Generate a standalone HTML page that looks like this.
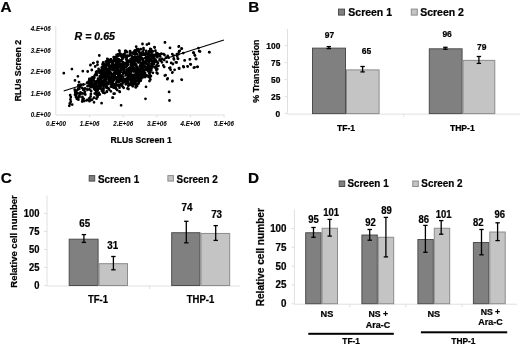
<!DOCTYPE html>
<html><head><meta charset="utf-8"><style>
html,body{margin:0;padding:0;background:#fff;width:520px;height:347px;overflow:hidden}
svg{display:block;font-family:"Liberation Sans", sans-serif;filter:blur(0.35px)} text{stroke:#000;stroke-width:0.22px}
</style></head><body>
<svg width="520" height="347" viewBox="0 0 520 347">
<text x="0.60" y="12.40" font-size="15.3" text-anchor="start" font-weight="bold" font-style="normal" fill="#000" >A</text>
<line x1="55.8" y1="26" x2="55.8" y2="115" stroke="#e0e0e0" stroke-width="1"/>
<line x1="55.8" y1="115" x2="224.5" y2="115" stroke="#e0e0e0" stroke-width="1"/>
<text transform="translate(50.60,117.30) scale(1,1.07)" font-size="6.2" text-anchor="end" font-weight="bold" font-style="italic" fill="#000" style="stroke-width:0.05px">0.E+00</text>
<text transform="translate(50.60,95.70) scale(1,1.07)" font-size="6.2" text-anchor="end" font-weight="bold" font-style="italic" fill="#000" style="stroke-width:0.05px">1.E+06</text>
<text transform="translate(50.60,74.10) scale(1,1.07)" font-size="6.2" text-anchor="end" font-weight="bold" font-style="italic" fill="#000" style="stroke-width:0.05px">2.E+06</text>
<text transform="translate(50.60,52.50) scale(1,1.07)" font-size="6.2" text-anchor="end" font-weight="bold" font-style="italic" fill="#000" style="stroke-width:0.05px">3.E+06</text>
<text transform="translate(50.60,30.90) scale(1,1.07)" font-size="6.2" text-anchor="end" font-weight="bold" font-style="italic" fill="#000" style="stroke-width:0.05px">4.E+06</text>
<line x1="89.6" y1="115" x2="89.6" y2="117.5" stroke="#e0e0e0" stroke-width="1"/>
<line x1="123.2" y1="115" x2="123.2" y2="117.5" stroke="#e0e0e0" stroke-width="1"/>
<line x1="156.8" y1="115" x2="156.8" y2="117.5" stroke="#e0e0e0" stroke-width="1"/>
<line x1="190.4" y1="115" x2="190.4" y2="117.5" stroke="#e0e0e0" stroke-width="1"/>
<line x1="224.0" y1="115" x2="224.0" y2="117.5" stroke="#e0e0e0" stroke-width="1"/>
<text transform="translate(56.00,126.20) scale(1,1.07)" font-size="6.2" text-anchor="middle" font-weight="bold" font-style="italic" fill="#000" style="stroke-width:0.05px">0.E+00</text>
<text transform="translate(89.60,126.20) scale(1,1.07)" font-size="6.2" text-anchor="middle" font-weight="bold" font-style="italic" fill="#000" style="stroke-width:0.05px">1.E+06</text>
<text transform="translate(123.20,126.20) scale(1,1.07)" font-size="6.2" text-anchor="middle" font-weight="bold" font-style="italic" fill="#000" style="stroke-width:0.05px">2.E+06</text>
<text transform="translate(156.80,126.20) scale(1,1.07)" font-size="6.2" text-anchor="middle" font-weight="bold" font-style="italic" fill="#000" style="stroke-width:0.05px">3.E+06</text>
<text transform="translate(190.40,126.20) scale(1,1.07)" font-size="6.2" text-anchor="middle" font-weight="bold" font-style="italic" fill="#000" style="stroke-width:0.05px">4.E+06</text>
<text transform="translate(224.00,126.20) scale(1,1.07)" font-size="6.2" text-anchor="middle" font-weight="bold" font-style="italic" fill="#000" style="stroke-width:0.05px">5.E+06</text>
<text transform="translate(141.10,143.20) scale(1,1.07)" font-size="8.7" text-anchor="middle" font-weight="bold" font-style="normal" fill="#000" >RLUs Screen 1</text>
<text transform="translate(20.6,70.6) rotate(-90)" font-size="8.7" text-anchor="middle" font-weight="bold">RLUs Screen 2</text>
<text transform="translate(74.60,39.90) scale(1,1.07)" font-size="10.6" text-anchor="start" font-weight="bold" font-style="italic" fill="#000" >R = 0.65</text>
<path d="M117.1 54.2a1.4 1.4 0 1 0 2.8 0a1.4 1.4 0 1 0 -2.8 0zM104.5 61.7a1.4 1.4 0 1 0 2.8 0a1.4 1.4 0 1 0 -2.8 0zM131.4 86.3a1.4 1.4 0 1 0 2.8 0a1.4 1.4 0 1 0 -2.8 0zM118.1 87.7a1.4 1.4 0 1 0 2.8 0a1.4 1.4 0 1 0 -2.8 0zM135.7 85.9a1.4 1.4 0 1 0 2.8 0a1.4 1.4 0 1 0 -2.8 0zM133.1 50.8a1.4 1.4 0 1 0 2.8 0a1.4 1.4 0 1 0 -2.8 0zM95.4 71.4a1.4 1.4 0 1 0 2.8 0a1.4 1.4 0 1 0 -2.8 0zM119.7 54.3a1.4 1.4 0 1 0 2.8 0a1.4 1.4 0 1 0 -2.8 0zM114.7 88.8a1.4 1.4 0 1 0 2.8 0a1.4 1.4 0 1 0 -2.8 0zM136.8 49.9a1.4 1.4 0 1 0 2.8 0a1.4 1.4 0 1 0 -2.8 0zM109.6 59.4a1.4 1.4 0 1 0 2.8 0a1.4 1.4 0 1 0 -2.8 0zM109.7 59.4a1.4 1.4 0 1 0 2.8 0a1.4 1.4 0 1 0 -2.8 0zM131.1 86.0a1.4 1.4 0 1 0 2.8 0a1.4 1.4 0 1 0 -2.8 0zM148.8 48.9a1.4 1.4 0 1 0 2.8 0a1.4 1.4 0 1 0 -2.8 0zM125.7 52.0a1.4 1.4 0 1 0 2.8 0a1.4 1.4 0 1 0 -2.8 0zM116.3 54.3a1.4 1.4 0 1 0 2.8 0a1.4 1.4 0 1 0 -2.8 0zM116.5 54.4a1.4 1.4 0 1 0 2.8 0a1.4 1.4 0 1 0 -2.8 0zM117.0 55.3a1.4 1.4 0 1 0 2.8 0a1.4 1.4 0 1 0 -2.8 0zM151.3 62.0a1.4 1.4 0 1 0 2.8 0a1.4 1.4 0 1 0 -2.8 0zM109.5 91.3a1.4 1.4 0 1 0 2.8 0a1.4 1.4 0 1 0 -2.8 0zM90.4 77.7a1.4 1.4 0 1 0 2.8 0a1.4 1.4 0 1 0 -2.8 0zM149.8 50.0a1.4 1.4 0 1 0 2.8 0a1.4 1.4 0 1 0 -2.8 0zM130.4 85.0a1.4 1.4 0 1 0 2.8 0a1.4 1.4 0 1 0 -2.8 0zM139.4 49.2a1.4 1.4 0 1 0 2.8 0a1.4 1.4 0 1 0 -2.8 0zM135.4 85.1a1.4 1.4 0 1 0 2.8 0a1.4 1.4 0 1 0 -2.8 0zM151.1 65.9a1.4 1.4 0 1 0 2.8 0a1.4 1.4 0 1 0 -2.8 0zM94.7 72.2a1.4 1.4 0 1 0 2.8 0a1.4 1.4 0 1 0 -2.8 0zM87.6 80.8a1.4 1.4 0 1 0 2.8 0a1.4 1.4 0 1 0 -2.8 0zM149.0 71.3a1.4 1.4 0 1 0 2.8 0a1.4 1.4 0 1 0 -2.8 0zM112.3 57.2a1.4 1.4 0 1 0 2.8 0a1.4 1.4 0 1 0 -2.8 0zM89.2 86.9a1.4 1.4 0 1 0 2.8 0a1.4 1.4 0 1 0 -2.8 0zM149.0 50.6a1.4 1.4 0 1 0 2.8 0a1.4 1.4 0 1 0 -2.8 0zM97.2 69.0a1.4 1.4 0 1 0 2.8 0a1.4 1.4 0 1 0 -2.8 0zM136.7 49.1a1.4 1.4 0 1 0 2.8 0a1.4 1.4 0 1 0 -2.8 0zM150.0 70.0a1.4 1.4 0 1 0 2.8 0a1.4 1.4 0 1 0 -2.8 0zM114.3 57.0a1.4 1.4 0 1 0 2.8 0a1.4 1.4 0 1 0 -2.8 0zM101.1 64.6a1.4 1.4 0 1 0 2.8 0a1.4 1.4 0 1 0 -2.8 0zM106.4 59.8a1.4 1.4 0 1 0 2.8 0a1.4 1.4 0 1 0 -2.8 0zM115.7 90.0a1.4 1.4 0 1 0 2.8 0a1.4 1.4 0 1 0 -2.8 0zM147.9 73.7a1.4 1.4 0 1 0 2.8 0a1.4 1.4 0 1 0 -2.8 0zM101.3 63.9a1.4 1.4 0 1 0 2.8 0a1.4 1.4 0 1 0 -2.8 0zM150.5 64.1a1.4 1.4 0 1 0 2.8 0a1.4 1.4 0 1 0 -2.8 0zM150.9 62.0a1.4 1.4 0 1 0 2.8 0a1.4 1.4 0 1 0 -2.8 0zM142.1 48.2a1.4 1.4 0 1 0 2.8 0a1.4 1.4 0 1 0 -2.8 0zM105.5 91.3a1.4 1.4 0 1 0 2.8 0a1.4 1.4 0 1 0 -2.8 0zM87.9 79.0a1.4 1.4 0 1 0 2.8 0a1.4 1.4 0 1 0 -2.8 0zM137.0 83.7a1.4 1.4 0 1 0 2.8 0a1.4 1.4 0 1 0 -2.8 0zM128.7 51.1a1.4 1.4 0 1 0 2.8 0a1.4 1.4 0 1 0 -2.8 0zM131.5 85.8a1.4 1.4 0 1 0 2.8 0a1.4 1.4 0 1 0 -2.8 0zM101.6 92.5a1.4 1.4 0 1 0 2.8 0a1.4 1.4 0 1 0 -2.8 0zM146.2 76.3a1.4 1.4 0 1 0 2.8 0a1.4 1.4 0 1 0 -2.8 0zM118.7 53.5a1.4 1.4 0 1 0 2.8 0a1.4 1.4 0 1 0 -2.8 0zM115.7 54.8a1.4 1.4 0 1 0 2.8 0a1.4 1.4 0 1 0 -2.8 0zM101.8 62.4a1.4 1.4 0 1 0 2.8 0a1.4 1.4 0 1 0 -2.8 0zM133.7 50.5a1.4 1.4 0 1 0 2.8 0a1.4 1.4 0 1 0 -2.8 0zM96.0 90.2a1.4 1.4 0 1 0 2.8 0a1.4 1.4 0 1 0 -2.8 0zM106.6 59.3a1.4 1.4 0 1 0 2.8 0a1.4 1.4 0 1 0 -2.8 0zM93.6 90.1a1.4 1.4 0 1 0 2.8 0a1.4 1.4 0 1 0 -2.8 0zM115.2 55.0a1.4 1.4 0 1 0 2.8 0a1.4 1.4 0 1 0 -2.8 0zM135.6 49.2a1.4 1.4 0 1 0 2.8 0a1.4 1.4 0 1 0 -2.8 0zM126.9 85.8a1.4 1.4 0 1 0 2.8 0a1.4 1.4 0 1 0 -2.8 0zM147.8 73.2a1.4 1.4 0 1 0 2.8 0a1.4 1.4 0 1 0 -2.8 0zM122.3 87.8a1.4 1.4 0 1 0 2.8 0a1.4 1.4 0 1 0 -2.8 0zM149.9 68.6a1.4 1.4 0 1 0 2.8 0a1.4 1.4 0 1 0 -2.8 0zM103.2 93.0a1.4 1.4 0 1 0 2.8 0a1.4 1.4 0 1 0 -2.8 0zM106.2 59.8a1.4 1.4 0 1 0 2.8 0a1.4 1.4 0 1 0 -2.8 0zM90.1 78.3a1.4 1.4 0 1 0 2.8 0a1.4 1.4 0 1 0 -2.8 0zM113.6 57.3a1.4 1.4 0 1 0 2.8 0a1.4 1.4 0 1 0 -2.8 0zM92.6 88.7a1.4 1.4 0 1 0 2.8 0a1.4 1.4 0 1 0 -2.8 0zM90.2 87.1a1.4 1.4 0 1 0 2.8 0a1.4 1.4 0 1 0 -2.8 0zM105.0 61.2a1.4 1.4 0 1 0 2.8 0a1.4 1.4 0 1 0 -2.8 0zM89.9 87.0a1.4 1.4 0 1 0 2.8 0a1.4 1.4 0 1 0 -2.8 0zM87.9 80.2a1.4 1.4 0 1 0 2.8 0a1.4 1.4 0 1 0 -2.8 0zM87.4 81.7a1.4 1.4 0 1 0 2.8 0a1.4 1.4 0 1 0 -2.8 0zM85.8 82.6a1.4 1.4 0 1 0 2.8 0a1.4 1.4 0 1 0 -2.8 0zM121.4 86.8a1.4 1.4 0 1 0 2.8 0a1.4 1.4 0 1 0 -2.8 0zM134.5 86.0a1.4 1.4 0 1 0 2.8 0a1.4 1.4 0 1 0 -2.8 0zM115.3 54.9a1.4 1.4 0 1 0 2.8 0a1.4 1.4 0 1 0 -2.8 0zM149.0 71.8a1.4 1.4 0 1 0 2.8 0a1.4 1.4 0 1 0 -2.8 0zM87.8 86.1a1.4 1.4 0 1 0 2.8 0a1.4 1.4 0 1 0 -2.8 0zM119.2 71.4a1.4 1.4 0 1 0 2.8 0a1.4 1.4 0 1 0 -2.8 0zM137.3 76.0a1.4 1.4 0 1 0 2.8 0a1.4 1.4 0 1 0 -2.8 0zM147.1 57.4a1.4 1.4 0 1 0 2.8 0a1.4 1.4 0 1 0 -2.8 0zM137.0 78.2a1.4 1.4 0 1 0 2.8 0a1.4 1.4 0 1 0 -2.8 0zM116.1 80.0a1.4 1.4 0 1 0 2.8 0a1.4 1.4 0 1 0 -2.8 0zM97.6 80.9a1.4 1.4 0 1 0 2.8 0a1.4 1.4 0 1 0 -2.8 0zM103.8 72.2a1.4 1.4 0 1 0 2.8 0a1.4 1.4 0 1 0 -2.8 0zM129.2 59.0a1.4 1.4 0 1 0 2.8 0a1.4 1.4 0 1 0 -2.8 0zM148.5 54.6a1.4 1.4 0 1 0 2.8 0a1.4 1.4 0 1 0 -2.8 0zM138.5 68.6a1.4 1.4 0 1 0 2.8 0a1.4 1.4 0 1 0 -2.8 0zM137.1 76.3a1.4 1.4 0 1 0 2.8 0a1.4 1.4 0 1 0 -2.8 0zM137.5 50.7a1.4 1.4 0 1 0 2.8 0a1.4 1.4 0 1 0 -2.8 0zM107.0 65.5a1.4 1.4 0 1 0 2.8 0a1.4 1.4 0 1 0 -2.8 0zM129.8 69.2a1.4 1.4 0 1 0 2.8 0a1.4 1.4 0 1 0 -2.8 0zM121.7 54.7a1.4 1.4 0 1 0 2.8 0a1.4 1.4 0 1 0 -2.8 0zM116.5 73.2a1.4 1.4 0 1 0 2.8 0a1.4 1.4 0 1 0 -2.8 0zM103.2 73.2a1.4 1.4 0 1 0 2.8 0a1.4 1.4 0 1 0 -2.8 0zM135.5 73.6a1.4 1.4 0 1 0 2.8 0a1.4 1.4 0 1 0 -2.8 0zM125.7 83.0a1.4 1.4 0 1 0 2.8 0a1.4 1.4 0 1 0 -2.8 0zM135.4 78.2a1.4 1.4 0 1 0 2.8 0a1.4 1.4 0 1 0 -2.8 0zM131.5 52.6a1.4 1.4 0 1 0 2.8 0a1.4 1.4 0 1 0 -2.8 0zM94.8 87.3a1.4 1.4 0 1 0 2.8 0a1.4 1.4 0 1 0 -2.8 0zM105.7 75.7a1.4 1.4 0 1 0 2.8 0a1.4 1.4 0 1 0 -2.8 0zM132.1 71.5a1.4 1.4 0 1 0 2.8 0a1.4 1.4 0 1 0 -2.8 0zM116.7 62.0a1.4 1.4 0 1 0 2.8 0a1.4 1.4 0 1 0 -2.8 0zM115.3 73.8a1.4 1.4 0 1 0 2.8 0a1.4 1.4 0 1 0 -2.8 0zM99.6 70.8a1.4 1.4 0 1 0 2.8 0a1.4 1.4 0 1 0 -2.8 0zM116.3 56.3a1.4 1.4 0 1 0 2.8 0a1.4 1.4 0 1 0 -2.8 0zM102.2 73.8a1.4 1.4 0 1 0 2.8 0a1.4 1.4 0 1 0 -2.8 0zM126.8 73.4a1.4 1.4 0 1 0 2.8 0a1.4 1.4 0 1 0 -2.8 0zM119.9 70.0a1.4 1.4 0 1 0 2.8 0a1.4 1.4 0 1 0 -2.8 0zM147.0 64.8a1.4 1.4 0 1 0 2.8 0a1.4 1.4 0 1 0 -2.8 0zM139.2 57.4a1.4 1.4 0 1 0 2.8 0a1.4 1.4 0 1 0 -2.8 0zM118.9 65.3a1.4 1.4 0 1 0 2.8 0a1.4 1.4 0 1 0 -2.8 0zM137.3 83.0a1.4 1.4 0 1 0 2.8 0a1.4 1.4 0 1 0 -2.8 0zM127.2 73.6a1.4 1.4 0 1 0 2.8 0a1.4 1.4 0 1 0 -2.8 0zM116.2 78.8a1.4 1.4 0 1 0 2.8 0a1.4 1.4 0 1 0 -2.8 0zM114.1 86.7a1.4 1.4 0 1 0 2.8 0a1.4 1.4 0 1 0 -2.8 0zM101.9 69.0a1.4 1.4 0 1 0 2.8 0a1.4 1.4 0 1 0 -2.8 0zM136.3 73.9a1.4 1.4 0 1 0 2.8 0a1.4 1.4 0 1 0 -2.8 0zM134.9 80.9a1.4 1.4 0 1 0 2.8 0a1.4 1.4 0 1 0 -2.8 0zM110.7 67.5a1.4 1.4 0 1 0 2.8 0a1.4 1.4 0 1 0 -2.8 0zM147.1 52.5a1.4 1.4 0 1 0 2.8 0a1.4 1.4 0 1 0 -2.8 0zM136.3 56.4a1.4 1.4 0 1 0 2.8 0a1.4 1.4 0 1 0 -2.8 0zM118.8 65.8a1.4 1.4 0 1 0 2.8 0a1.4 1.4 0 1 0 -2.8 0zM88.3 85.3a1.4 1.4 0 1 0 2.8 0a1.4 1.4 0 1 0 -2.8 0zM132.4 60.1a1.4 1.4 0 1 0 2.8 0a1.4 1.4 0 1 0 -2.8 0zM137.1 61.9a1.4 1.4 0 1 0 2.8 0a1.4 1.4 0 1 0 -2.8 0zM125.6 80.0a1.4 1.4 0 1 0 2.8 0a1.4 1.4 0 1 0 -2.8 0zM140.6 66.5a1.4 1.4 0 1 0 2.8 0a1.4 1.4 0 1 0 -2.8 0zM103.2 66.6a1.4 1.4 0 1 0 2.8 0a1.4 1.4 0 1 0 -2.8 0zM129.5 72.1a1.4 1.4 0 1 0 2.8 0a1.4 1.4 0 1 0 -2.8 0zM105.6 70.8a1.4 1.4 0 1 0 2.8 0a1.4 1.4 0 1 0 -2.8 0zM114.9 63.1a1.4 1.4 0 1 0 2.8 0a1.4 1.4 0 1 0 -2.8 0zM110.7 73.8a1.4 1.4 0 1 0 2.8 0a1.4 1.4 0 1 0 -2.8 0zM109.2 78.3a1.4 1.4 0 1 0 2.8 0a1.4 1.4 0 1 0 -2.8 0zM129.2 73.0a1.4 1.4 0 1 0 2.8 0a1.4 1.4 0 1 0 -2.8 0zM113.6 66.2a1.4 1.4 0 1 0 2.8 0a1.4 1.4 0 1 0 -2.8 0zM89.3 80.2a1.4 1.4 0 1 0 2.8 0a1.4 1.4 0 1 0 -2.8 0zM104.4 68.7a1.4 1.4 0 1 0 2.8 0a1.4 1.4 0 1 0 -2.8 0zM103.0 80.0a1.4 1.4 0 1 0 2.8 0a1.4 1.4 0 1 0 -2.8 0zM133.1 57.2a1.4 1.4 0 1 0 2.8 0a1.4 1.4 0 1 0 -2.8 0zM100.3 88.5a1.4 1.4 0 1 0 2.8 0a1.4 1.4 0 1 0 -2.8 0zM124.8 56.9a1.4 1.4 0 1 0 2.8 0a1.4 1.4 0 1 0 -2.8 0zM109.5 67.8a1.4 1.4 0 1 0 2.8 0a1.4 1.4 0 1 0 -2.8 0zM131.8 84.6a1.4 1.4 0 1 0 2.8 0a1.4 1.4 0 1 0 -2.8 0zM138.3 54.6a1.4 1.4 0 1 0 2.8 0a1.4 1.4 0 1 0 -2.8 0zM91.7 77.2a1.4 1.4 0 1 0 2.8 0a1.4 1.4 0 1 0 -2.8 0zM131.4 53.2a1.4 1.4 0 1 0 2.8 0a1.4 1.4 0 1 0 -2.8 0zM119.7 84.1a1.4 1.4 0 1 0 2.8 0a1.4 1.4 0 1 0 -2.8 0zM121.5 68.7a1.4 1.4 0 1 0 2.8 0a1.4 1.4 0 1 0 -2.8 0zM126.6 79.8a1.4 1.4 0 1 0 2.8 0a1.4 1.4 0 1 0 -2.8 0zM102.5 81.1a1.4 1.4 0 1 0 2.8 0a1.4 1.4 0 1 0 -2.8 0zM102.9 82.6a1.4 1.4 0 1 0 2.8 0a1.4 1.4 0 1 0 -2.8 0zM134.4 51.1a1.4 1.4 0 1 0 2.8 0a1.4 1.4 0 1 0 -2.8 0zM128.7 79.8a1.4 1.4 0 1 0 2.8 0a1.4 1.4 0 1 0 -2.8 0zM102.5 70.5a1.4 1.4 0 1 0 2.8 0a1.4 1.4 0 1 0 -2.8 0zM135.4 68.8a1.4 1.4 0 1 0 2.8 0a1.4 1.4 0 1 0 -2.8 0zM103.8 67.4a1.4 1.4 0 1 0 2.8 0a1.4 1.4 0 1 0 -2.8 0zM126.2 60.9a1.4 1.4 0 1 0 2.8 0a1.4 1.4 0 1 0 -2.8 0zM148.6 69.7a1.4 1.4 0 1 0 2.8 0a1.4 1.4 0 1 0 -2.8 0zM110.4 79.7a1.4 1.4 0 1 0 2.8 0a1.4 1.4 0 1 0 -2.8 0zM136.3 59.5a1.4 1.4 0 1 0 2.8 0a1.4 1.4 0 1 0 -2.8 0zM110.5 65.1a1.4 1.4 0 1 0 2.8 0a1.4 1.4 0 1 0 -2.8 0zM105.1 83.3a1.4 1.4 0 1 0 2.8 0a1.4 1.4 0 1 0 -2.8 0zM127.7 77.4a1.4 1.4 0 1 0 2.8 0a1.4 1.4 0 1 0 -2.8 0zM104.3 84.3a1.4 1.4 0 1 0 2.8 0a1.4 1.4 0 1 0 -2.8 0zM148.1 58.7a1.4 1.4 0 1 0 2.8 0a1.4 1.4 0 1 0 -2.8 0zM100.0 85.8a1.4 1.4 0 1 0 2.8 0a1.4 1.4 0 1 0 -2.8 0zM108.0 78.4a1.4 1.4 0 1 0 2.8 0a1.4 1.4 0 1 0 -2.8 0zM124.4 66.8a1.4 1.4 0 1 0 2.8 0a1.4 1.4 0 1 0 -2.8 0zM132.2 78.2a1.4 1.4 0 1 0 2.8 0a1.4 1.4 0 1 0 -2.8 0zM132.0 64.2a1.4 1.4 0 1 0 2.8 0a1.4 1.4 0 1 0 -2.8 0zM126.4 60.5a1.4 1.4 0 1 0 2.8 0a1.4 1.4 0 1 0 -2.8 0zM97.7 83.8a1.4 1.4 0 1 0 2.8 0a1.4 1.4 0 1 0 -2.8 0zM115.6 77.9a1.4 1.4 0 1 0 2.8 0a1.4 1.4 0 1 0 -2.8 0zM98.8 75.9a1.4 1.4 0 1 0 2.8 0a1.4 1.4 0 1 0 -2.8 0zM128.8 72.8a1.4 1.4 0 1 0 2.8 0a1.4 1.4 0 1 0 -2.8 0zM145.4 53.8a1.4 1.4 0 1 0 2.8 0a1.4 1.4 0 1 0 -2.8 0zM121.1 83.8a1.4 1.4 0 1 0 2.8 0a1.4 1.4 0 1 0 -2.8 0zM117.2 64.9a1.4 1.4 0 1 0 2.8 0a1.4 1.4 0 1 0 -2.8 0zM107.7 75.9a1.4 1.4 0 1 0 2.8 0a1.4 1.4 0 1 0 -2.8 0zM129.8 64.7a1.4 1.4 0 1 0 2.8 0a1.4 1.4 0 1 0 -2.8 0zM126.0 55.6a1.4 1.4 0 1 0 2.8 0a1.4 1.4 0 1 0 -2.8 0zM90.2 83.3a1.4 1.4 0 1 0 2.8 0a1.4 1.4 0 1 0 -2.8 0zM98.7 86.3a1.4 1.4 0 1 0 2.8 0a1.4 1.4 0 1 0 -2.8 0zM147.0 58.1a1.4 1.4 0 1 0 2.8 0a1.4 1.4 0 1 0 -2.8 0zM104.3 73.7a1.4 1.4 0 1 0 2.8 0a1.4 1.4 0 1 0 -2.8 0zM121.0 55.2a1.4 1.4 0 1 0 2.8 0a1.4 1.4 0 1 0 -2.8 0zM122.0 57.4a1.4 1.4 0 1 0 2.8 0a1.4 1.4 0 1 0 -2.8 0zM127.8 83.9a1.4 1.4 0 1 0 2.8 0a1.4 1.4 0 1 0 -2.8 0zM95.1 89.1a1.4 1.4 0 1 0 2.8 0a1.4 1.4 0 1 0 -2.8 0zM131.0 77.5a1.4 1.4 0 1 0 2.8 0a1.4 1.4 0 1 0 -2.8 0zM128.4 61.1a1.4 1.4 0 1 0 2.8 0a1.4 1.4 0 1 0 -2.8 0zM90.9 78.3a1.4 1.4 0 1 0 2.8 0a1.4 1.4 0 1 0 -2.8 0zM110.9 86.9a1.4 1.4 0 1 0 2.8 0a1.4 1.4 0 1 0 -2.8 0zM101.1 81.0a1.4 1.4 0 1 0 2.8 0a1.4 1.4 0 1 0 -2.8 0zM133.4 80.2a1.4 1.4 0 1 0 2.8 0a1.4 1.4 0 1 0 -2.8 0zM126.0 61.1a1.4 1.4 0 1 0 2.8 0a1.4 1.4 0 1 0 -2.8 0zM147.7 62.1a1.4 1.4 0 1 0 2.8 0a1.4 1.4 0 1 0 -2.8 0zM105.2 85.9a1.4 1.4 0 1 0 2.8 0a1.4 1.4 0 1 0 -2.8 0zM145.8 68.3a1.4 1.4 0 1 0 2.8 0a1.4 1.4 0 1 0 -2.8 0zM103.6 84.2a1.4 1.4 0 1 0 2.8 0a1.4 1.4 0 1 0 -2.8 0zM139.8 77.4a1.4 1.4 0 1 0 2.8 0a1.4 1.4 0 1 0 -2.8 0zM115.8 66.9a1.4 1.4 0 1 0 2.8 0a1.4 1.4 0 1 0 -2.8 0zM130.1 60.0a1.4 1.4 0 1 0 2.8 0a1.4 1.4 0 1 0 -2.8 0zM123.5 53.3a1.4 1.4 0 1 0 2.8 0a1.4 1.4 0 1 0 -2.8 0zM96.2 86.5a1.4 1.4 0 1 0 2.8 0a1.4 1.4 0 1 0 -2.8 0zM97.9 84.1a1.4 1.4 0 1 0 2.8 0a1.4 1.4 0 1 0 -2.8 0zM126.7 62.3a1.4 1.4 0 1 0 2.8 0a1.4 1.4 0 1 0 -2.8 0zM107.3 61.7a1.4 1.4 0 1 0 2.8 0a1.4 1.4 0 1 0 -2.8 0zM136.1 74.5a1.4 1.4 0 1 0 2.8 0a1.4 1.4 0 1 0 -2.8 0zM123.7 66.9a1.4 1.4 0 1 0 2.8 0a1.4 1.4 0 1 0 -2.8 0zM104.3 72.3a1.4 1.4 0 1 0 2.8 0a1.4 1.4 0 1 0 -2.8 0zM138.6 54.9a1.4 1.4 0 1 0 2.8 0a1.4 1.4 0 1 0 -2.8 0zM105.7 88.0a1.4 1.4 0 1 0 2.8 0a1.4 1.4 0 1 0 -2.8 0zM131.8 75.0a1.4 1.4 0 1 0 2.8 0a1.4 1.4 0 1 0 -2.8 0zM133.0 62.7a1.4 1.4 0 1 0 2.8 0a1.4 1.4 0 1 0 -2.8 0zM114.3 65.2a1.4 1.4 0 1 0 2.8 0a1.4 1.4 0 1 0 -2.8 0zM129.3 59.5a1.4 1.4 0 1 0 2.8 0a1.4 1.4 0 1 0 -2.8 0zM127.9 55.6a1.4 1.4 0 1 0 2.8 0a1.4 1.4 0 1 0 -2.8 0zM101.3 75.5a1.4 1.4 0 1 0 2.8 0a1.4 1.4 0 1 0 -2.8 0zM121.9 65.7a1.4 1.4 0 1 0 2.8 0a1.4 1.4 0 1 0 -2.8 0zM101.7 74.7a1.4 1.4 0 1 0 2.8 0a1.4 1.4 0 1 0 -2.8 0zM133.6 83.4a1.4 1.4 0 1 0 2.8 0a1.4 1.4 0 1 0 -2.8 0zM138.0 59.0a1.4 1.4 0 1 0 2.8 0a1.4 1.4 0 1 0 -2.8 0zM140.1 57.9a1.4 1.4 0 1 0 2.8 0a1.4 1.4 0 1 0 -2.8 0zM104.6 66.2a1.4 1.4 0 1 0 2.8 0a1.4 1.4 0 1 0 -2.8 0zM131.0 56.7a1.4 1.4 0 1 0 2.8 0a1.4 1.4 0 1 0 -2.8 0zM100.1 75.4a1.4 1.4 0 1 0 2.8 0a1.4 1.4 0 1 0 -2.8 0zM117.6 55.4a1.4 1.4 0 1 0 2.8 0a1.4 1.4 0 1 0 -2.8 0zM133.3 69.1a1.4 1.4 0 1 0 2.8 0a1.4 1.4 0 1 0 -2.8 0zM119.5 75.4a1.4 1.4 0 1 0 2.8 0a1.4 1.4 0 1 0 -2.8 0zM130.1 69.7a1.4 1.4 0 1 0 2.8 0a1.4 1.4 0 1 0 -2.8 0zM104.0 78.2a1.4 1.4 0 1 0 2.8 0a1.4 1.4 0 1 0 -2.8 0zM125.4 65.3a1.4 1.4 0 1 0 2.8 0a1.4 1.4 0 1 0 -2.8 0zM132.1 81.5a1.4 1.4 0 1 0 2.8 0a1.4 1.4 0 1 0 -2.8 0zM134.6 75.0a1.4 1.4 0 1 0 2.8 0a1.4 1.4 0 1 0 -2.8 0zM107.3 68.3a1.4 1.4 0 1 0 2.8 0a1.4 1.4 0 1 0 -2.8 0zM141.0 77.6a1.4 1.4 0 1 0 2.8 0a1.4 1.4 0 1 0 -2.8 0zM131.8 79.2a1.4 1.4 0 1 0 2.8 0a1.4 1.4 0 1 0 -2.8 0zM142.4 63.1a1.4 1.4 0 1 0 2.8 0a1.4 1.4 0 1 0 -2.8 0zM113.5 66.4a1.4 1.4 0 1 0 2.8 0a1.4 1.4 0 1 0 -2.8 0zM104.3 75.9a1.4 1.4 0 1 0 2.8 0a1.4 1.4 0 1 0 -2.8 0zM100.5 88.5a1.4 1.4 0 1 0 2.8 0a1.4 1.4 0 1 0 -2.8 0zM109.8 76.8a1.4 1.4 0 1 0 2.8 0a1.4 1.4 0 1 0 -2.8 0zM113.6 78.9a1.4 1.4 0 1 0 2.8 0a1.4 1.4 0 1 0 -2.8 0zM130.1 62.9a1.4 1.4 0 1 0 2.8 0a1.4 1.4 0 1 0 -2.8 0zM104.0 81.7a1.4 1.4 0 1 0 2.8 0a1.4 1.4 0 1 0 -2.8 0zM120.8 69.5a1.4 1.4 0 1 0 2.8 0a1.4 1.4 0 1 0 -2.8 0zM120.5 79.3a1.4 1.4 0 1 0 2.8 0a1.4 1.4 0 1 0 -2.8 0zM133.9 65.1a1.4 1.4 0 1 0 2.8 0a1.4 1.4 0 1 0 -2.8 0zM115.1 77.5a1.4 1.4 0 1 0 2.8 0a1.4 1.4 0 1 0 -2.8 0zM132.2 79.4a1.4 1.4 0 1 0 2.8 0a1.4 1.4 0 1 0 -2.8 0zM114.9 69.1a1.4 1.4 0 1 0 2.8 0a1.4 1.4 0 1 0 -2.8 0zM107.3 88.6a1.4 1.4 0 1 0 2.8 0a1.4 1.4 0 1 0 -2.8 0zM109.7 60.0a1.4 1.4 0 1 0 2.8 0a1.4 1.4 0 1 0 -2.8 0zM138.8 70.7a1.4 1.4 0 1 0 2.8 0a1.4 1.4 0 1 0 -2.8 0zM114.4 88.6a1.4 1.4 0 1 0 2.8 0a1.4 1.4 0 1 0 -2.8 0zM104.7 86.4a1.4 1.4 0 1 0 2.8 0a1.4 1.4 0 1 0 -2.8 0zM116.0 72.9a1.4 1.4 0 1 0 2.8 0a1.4 1.4 0 1 0 -2.8 0zM113.9 87.7a1.4 1.4 0 1 0 2.8 0a1.4 1.4 0 1 0 -2.8 0zM107.2 88.7a1.4 1.4 0 1 0 2.8 0a1.4 1.4 0 1 0 -2.8 0zM108.1 60.1a1.4 1.4 0 1 0 2.8 0a1.4 1.4 0 1 0 -2.8 0zM95.5 75.2a1.4 1.4 0 1 0 2.8 0a1.4 1.4 0 1 0 -2.8 0zM90.7 83.2a1.4 1.4 0 1 0 2.8 0a1.4 1.4 0 1 0 -2.8 0zM109.6 73.0a1.4 1.4 0 1 0 2.8 0a1.4 1.4 0 1 0 -2.8 0zM130.9 79.0a1.4 1.4 0 1 0 2.8 0a1.4 1.4 0 1 0 -2.8 0zM110.7 69.7a1.4 1.4 0 1 0 2.8 0a1.4 1.4 0 1 0 -2.8 0zM116.8 55.8a1.4 1.4 0 1 0 2.8 0a1.4 1.4 0 1 0 -2.8 0zM146.7 66.4a1.4 1.4 0 1 0 2.8 0a1.4 1.4 0 1 0 -2.8 0zM138.2 57.7a1.4 1.4 0 1 0 2.8 0a1.4 1.4 0 1 0 -2.8 0zM109.2 65.8a1.4 1.4 0 1 0 2.8 0a1.4 1.4 0 1 0 -2.8 0zM145.3 68.5a1.4 1.4 0 1 0 2.8 0a1.4 1.4 0 1 0 -2.8 0zM132.2 58.6a1.4 1.4 0 1 0 2.8 0a1.4 1.4 0 1 0 -2.8 0zM131.2 79.0a1.4 1.4 0 1 0 2.8 0a1.4 1.4 0 1 0 -2.8 0zM144.4 61.0a1.4 1.4 0 1 0 2.8 0a1.4 1.4 0 1 0 -2.8 0zM130.1 55.6a1.4 1.4 0 1 0 2.8 0a1.4 1.4 0 1 0 -2.8 0zM117.9 81.9a1.4 1.4 0 1 0 2.8 0a1.4 1.4 0 1 0 -2.8 0zM90.3 80.8a1.4 1.4 0 1 0 2.8 0a1.4 1.4 0 1 0 -2.8 0zM129.8 81.6a1.4 1.4 0 1 0 2.8 0a1.4 1.4 0 1 0 -2.8 0zM96.4 89.9a1.4 1.4 0 1 0 2.8 0a1.4 1.4 0 1 0 -2.8 0zM111.5 77.7a1.4 1.4 0 1 0 2.8 0a1.4 1.4 0 1 0 -2.8 0zM110.6 62.5a1.4 1.4 0 1 0 2.8 0a1.4 1.4 0 1 0 -2.8 0zM92.3 86.4a1.4 1.4 0 1 0 2.8 0a1.4 1.4 0 1 0 -2.8 0zM142.9 73.8a1.4 1.4 0 1 0 2.8 0a1.4 1.4 0 1 0 -2.8 0zM124.1 71.8a1.4 1.4 0 1 0 2.8 0a1.4 1.4 0 1 0 -2.8 0zM141.4 59.2a1.4 1.4 0 1 0 2.8 0a1.4 1.4 0 1 0 -2.8 0zM135.7 72.5a1.4 1.4 0 1 0 2.8 0a1.4 1.4 0 1 0 -2.8 0zM100.1 74.0a1.4 1.4 0 1 0 2.8 0a1.4 1.4 0 1 0 -2.8 0zM129.2 67.2a1.4 1.4 0 1 0 2.8 0a1.4 1.4 0 1 0 -2.8 0zM118.4 78.6a1.4 1.4 0 1 0 2.8 0a1.4 1.4 0 1 0 -2.8 0zM128.2 70.0a1.4 1.4 0 1 0 2.8 0a1.4 1.4 0 1 0 -2.8 0zM137.4 60.9a1.4 1.4 0 1 0 2.8 0a1.4 1.4 0 1 0 -2.8 0zM94.0 74.5a1.4 1.4 0 1 0 2.8 0a1.4 1.4 0 1 0 -2.8 0zM132.3 70.0a1.4 1.4 0 1 0 2.8 0a1.4 1.4 0 1 0 -2.8 0zM131.2 64.8a1.4 1.4 0 1 0 2.8 0a1.4 1.4 0 1 0 -2.8 0zM140.3 59.4a1.4 1.4 0 1 0 2.8 0a1.4 1.4 0 1 0 -2.8 0zM129.7 66.5a1.4 1.4 0 1 0 2.8 0a1.4 1.4 0 1 0 -2.8 0zM95.3 72.8a1.4 1.4 0 1 0 2.8 0a1.4 1.4 0 1 0 -2.8 0zM125.7 82.4a1.4 1.4 0 1 0 2.8 0a1.4 1.4 0 1 0 -2.8 0zM106.9 69.4a1.4 1.4 0 1 0 2.8 0a1.4 1.4 0 1 0 -2.8 0zM115.1 70.4a1.4 1.4 0 1 0 2.8 0a1.4 1.4 0 1 0 -2.8 0zM103.8 72.7a1.4 1.4 0 1 0 2.8 0a1.4 1.4 0 1 0 -2.8 0zM93.4 81.6a1.4 1.4 0 1 0 2.8 0a1.4 1.4 0 1 0 -2.8 0zM111.7 68.0a1.4 1.4 0 1 0 2.8 0a1.4 1.4 0 1 0 -2.8 0zM125.2 58.4a1.4 1.4 0 1 0 2.8 0a1.4 1.4 0 1 0 -2.8 0zM117.4 80.0a1.4 1.4 0 1 0 2.8 0a1.4 1.4 0 1 0 -2.8 0zM115.8 60.7a1.4 1.4 0 1 0 2.8 0a1.4 1.4 0 1 0 -2.8 0zM95.6 89.4a1.4 1.4 0 1 0 2.8 0a1.4 1.4 0 1 0 -2.8 0zM132.4 58.9a1.4 1.4 0 1 0 2.8 0a1.4 1.4 0 1 0 -2.8 0zM110.5 77.7a1.4 1.4 0 1 0 2.8 0a1.4 1.4 0 1 0 -2.8 0zM140.3 54.7a1.4 1.4 0 1 0 2.8 0a1.4 1.4 0 1 0 -2.8 0zM128.7 73.8a1.4 1.4 0 1 0 2.8 0a1.4 1.4 0 1 0 -2.8 0zM131.9 53.6a1.4 1.4 0 1 0 2.8 0a1.4 1.4 0 1 0 -2.8 0zM110.6 77.1a1.4 1.4 0 1 0 2.8 0a1.4 1.4 0 1 0 -2.8 0zM104.3 73.0a1.4 1.4 0 1 0 2.8 0a1.4 1.4 0 1 0 -2.8 0zM113.8 72.6a1.4 1.4 0 1 0 2.8 0a1.4 1.4 0 1 0 -2.8 0zM93.0 77.8a1.4 1.4 0 1 0 2.8 0a1.4 1.4 0 1 0 -2.8 0zM133.2 82.4a1.4 1.4 0 1 0 2.8 0a1.4 1.4 0 1 0 -2.8 0zM149.8 61.0a1.4 1.4 0 1 0 2.8 0a1.4 1.4 0 1 0 -2.8 0zM120.0 77.2a1.4 1.4 0 1 0 2.8 0a1.4 1.4 0 1 0 -2.8 0zM102.0 81.8a1.4 1.4 0 1 0 2.8 0a1.4 1.4 0 1 0 -2.8 0zM115.0 82.4a1.4 1.4 0 1 0 2.8 0a1.4 1.4 0 1 0 -2.8 0zM111.4 61.0a1.4 1.4 0 1 0 2.8 0a1.4 1.4 0 1 0 -2.8 0zM122.8 54.5a1.4 1.4 0 1 0 2.8 0a1.4 1.4 0 1 0 -2.8 0zM116.5 77.7a1.4 1.4 0 1 0 2.8 0a1.4 1.4 0 1 0 -2.8 0zM100.3 67.6a1.4 1.4 0 1 0 2.8 0a1.4 1.4 0 1 0 -2.8 0zM150.0 57.1a1.4 1.4 0 1 0 2.8 0a1.4 1.4 0 1 0 -2.8 0zM109.2 80.2a1.4 1.4 0 1 0 2.8 0a1.4 1.4 0 1 0 -2.8 0zM100.7 67.1a1.4 1.4 0 1 0 2.8 0a1.4 1.4 0 1 0 -2.8 0zM93.9 83.3a1.4 1.4 0 1 0 2.8 0a1.4 1.4 0 1 0 -2.8 0zM105.7 74.3a1.4 1.4 0 1 0 2.8 0a1.4 1.4 0 1 0 -2.8 0zM114.7 62.2a1.4 1.4 0 1 0 2.8 0a1.4 1.4 0 1 0 -2.8 0zM105.3 64.2a1.4 1.4 0 1 0 2.8 0a1.4 1.4 0 1 0 -2.8 0zM116.6 64.8a1.4 1.4 0 1 0 2.8 0a1.4 1.4 0 1 0 -2.8 0zM130.0 64.1a1.4 1.4 0 1 0 2.8 0a1.4 1.4 0 1 0 -2.8 0zM113.7 66.2a1.4 1.4 0 1 0 2.8 0a1.4 1.4 0 1 0 -2.8 0zM103.4 84.9a1.4 1.4 0 1 0 2.8 0a1.4 1.4 0 1 0 -2.8 0zM136.2 68.9a1.4 1.4 0 1 0 2.8 0a1.4 1.4 0 1 0 -2.8 0zM144.1 63.3a1.4 1.4 0 1 0 2.8 0a1.4 1.4 0 1 0 -2.8 0zM90.6 85.8a1.4 1.4 0 1 0 2.8 0a1.4 1.4 0 1 0 -2.8 0zM147.8 51.2a1.4 1.4 0 1 0 2.8 0a1.4 1.4 0 1 0 -2.8 0zM128.5 84.4a1.4 1.4 0 1 0 2.8 0a1.4 1.4 0 1 0 -2.8 0zM92.4 80.4a1.4 1.4 0 1 0 2.8 0a1.4 1.4 0 1 0 -2.8 0zM120.6 56.4a1.4 1.4 0 1 0 2.8 0a1.4 1.4 0 1 0 -2.8 0zM99.8 72.4a1.4 1.4 0 1 0 2.8 0a1.4 1.4 0 1 0 -2.8 0zM110.5 66.7a1.4 1.4 0 1 0 2.8 0a1.4 1.4 0 1 0 -2.8 0zM133.8 52.6a1.4 1.4 0 1 0 2.8 0a1.4 1.4 0 1 0 -2.8 0zM99.9 78.5a1.4 1.4 0 1 0 2.8 0a1.4 1.4 0 1 0 -2.8 0zM128.8 69.9a1.4 1.4 0 1 0 2.8 0a1.4 1.4 0 1 0 -2.8 0zM132.9 76.2a1.4 1.4 0 1 0 2.8 0a1.4 1.4 0 1 0 -2.8 0zM114.4 84.3a1.4 1.4 0 1 0 2.8 0a1.4 1.4 0 1 0 -2.8 0zM115.0 65.1a1.4 1.4 0 1 0 2.8 0a1.4 1.4 0 1 0 -2.8 0zM109.7 84.3a1.4 1.4 0 1 0 2.8 0a1.4 1.4 0 1 0 -2.8 0zM135.5 54.0a1.4 1.4 0 1 0 2.8 0a1.4 1.4 0 1 0 -2.8 0zM130.1 82.7a1.4 1.4 0 1 0 2.8 0a1.4 1.4 0 1 0 -2.8 0zM115.9 58.8a1.4 1.4 0 1 0 2.8 0a1.4 1.4 0 1 0 -2.8 0zM120.1 68.5a1.4 1.4 0 1 0 2.8 0a1.4 1.4 0 1 0 -2.8 0zM103.4 81.2a1.4 1.4 0 1 0 2.8 0a1.4 1.4 0 1 0 -2.8 0zM106.9 77.5a1.4 1.4 0 1 0 2.8 0a1.4 1.4 0 1 0 -2.8 0zM113.3 58.9a1.4 1.4 0 1 0 2.8 0a1.4 1.4 0 1 0 -2.8 0zM132.8 81.1a1.4 1.4 0 1 0 2.8 0a1.4 1.4 0 1 0 -2.8 0zM112.3 86.5a1.4 1.4 0 1 0 2.8 0a1.4 1.4 0 1 0 -2.8 0zM133.2 54.1a1.4 1.4 0 1 0 2.8 0a1.4 1.4 0 1 0 -2.8 0zM90.6 77.8a1.4 1.4 0 1 0 2.8 0a1.4 1.4 0 1 0 -2.8 0zM109.4 61.8a1.4 1.4 0 1 0 2.8 0a1.4 1.4 0 1 0 -2.8 0zM122.7 79.1a1.4 1.4 0 1 0 2.8 0a1.4 1.4 0 1 0 -2.8 0zM91.0 83.3a1.4 1.4 0 1 0 2.8 0a1.4 1.4 0 1 0 -2.8 0zM121.6 63.6a1.4 1.4 0 1 0 2.8 0a1.4 1.4 0 1 0 -2.8 0zM139.0 65.1a1.4 1.4 0 1 0 2.8 0a1.4 1.4 0 1 0 -2.8 0zM146.7 71.2a1.4 1.4 0 1 0 2.8 0a1.4 1.4 0 1 0 -2.8 0zM144.1 63.0a1.4 1.4 0 1 0 2.8 0a1.4 1.4 0 1 0 -2.8 0zM107.8 89.6a1.4 1.4 0 1 0 2.8 0a1.4 1.4 0 1 0 -2.8 0zM87.0 83.4a1.4 1.4 0 1 0 2.8 0a1.4 1.4 0 1 0 -2.8 0zM111.2 82.5a1.4 1.4 0 1 0 2.8 0a1.4 1.4 0 1 0 -2.8 0zM98.7 79.9a1.4 1.4 0 1 0 2.8 0a1.4 1.4 0 1 0 -2.8 0zM100.5 90.9a1.4 1.4 0 1 0 2.8 0a1.4 1.4 0 1 0 -2.8 0zM135.1 72.4a1.4 1.4 0 1 0 2.8 0a1.4 1.4 0 1 0 -2.8 0zM139.6 78.8a1.4 1.4 0 1 0 2.8 0a1.4 1.4 0 1 0 -2.8 0zM109.1 72.4a1.4 1.4 0 1 0 2.8 0a1.4 1.4 0 1 0 -2.8 0zM138.2 69.0a1.4 1.4 0 1 0 2.8 0a1.4 1.4 0 1 0 -2.8 0zM134.0 74.2a1.4 1.4 0 1 0 2.8 0a1.4 1.4 0 1 0 -2.8 0zM139.4 80.7a1.4 1.4 0 1 0 2.8 0a1.4 1.4 0 1 0 -2.8 0zM125.5 80.4a1.4 1.4 0 1 0 2.8 0a1.4 1.4 0 1 0 -2.8 0zM113.5 60.7a1.4 1.4 0 1 0 2.8 0a1.4 1.4 0 1 0 -2.8 0zM137.8 58.8a1.4 1.4 0 1 0 2.8 0a1.4 1.4 0 1 0 -2.8 0zM115.4 68.9a1.4 1.4 0 1 0 2.8 0a1.4 1.4 0 1 0 -2.8 0zM143.7 77.0a1.4 1.4 0 1 0 2.8 0a1.4 1.4 0 1 0 -2.8 0zM102.1 90.2a1.4 1.4 0 1 0 2.8 0a1.4 1.4 0 1 0 -2.8 0zM128.6 53.4a1.4 1.4 0 1 0 2.8 0a1.4 1.4 0 1 0 -2.8 0zM147.3 60.4a1.4 1.4 0 1 0 2.8 0a1.4 1.4 0 1 0 -2.8 0zM121.6 80.2a1.4 1.4 0 1 0 2.8 0a1.4 1.4 0 1 0 -2.8 0zM139.3 67.0a1.4 1.4 0 1 0 2.8 0a1.4 1.4 0 1 0 -2.8 0zM131.4 82.7a1.4 1.4 0 1 0 2.8 0a1.4 1.4 0 1 0 -2.8 0zM137.6 57.8a1.4 1.4 0 1 0 2.8 0a1.4 1.4 0 1 0 -2.8 0zM117.5 59.4a1.4 1.4 0 1 0 2.8 0a1.4 1.4 0 1 0 -2.8 0zM94.6 85.4a1.4 1.4 0 1 0 2.8 0a1.4 1.4 0 1 0 -2.8 0zM92.2 84.7a1.4 1.4 0 1 0 2.8 0a1.4 1.4 0 1 0 -2.8 0zM131.2 58.0a1.4 1.4 0 1 0 2.8 0a1.4 1.4 0 1 0 -2.8 0zM118.8 67.2a1.4 1.4 0 1 0 2.8 0a1.4 1.4 0 1 0 -2.8 0zM148.1 68.4a1.4 1.4 0 1 0 2.8 0a1.4 1.4 0 1 0 -2.8 0zM143.3 74.9a1.4 1.4 0 1 0 2.8 0a1.4 1.4 0 1 0 -2.8 0zM147.3 68.5a1.4 1.4 0 1 0 2.8 0a1.4 1.4 0 1 0 -2.8 0zM134.3 52.4a1.4 1.4 0 1 0 2.8 0a1.4 1.4 0 1 0 -2.8 0zM111.8 63.2a1.4 1.4 0 1 0 2.8 0a1.4 1.4 0 1 0 -2.8 0zM121.5 58.5a1.4 1.4 0 1 0 2.8 0a1.4 1.4 0 1 0 -2.8 0zM132.5 62.0a1.4 1.4 0 1 0 2.8 0a1.4 1.4 0 1 0 -2.8 0zM100.7 70.5a1.4 1.4 0 1 0 2.8 0a1.4 1.4 0 1 0 -2.8 0zM136.6 61.9a1.4 1.4 0 1 0 2.8 0a1.4 1.4 0 1 0 -2.8 0zM117.9 78.0a1.4 1.4 0 1 0 2.8 0a1.4 1.4 0 1 0 -2.8 0zM143.8 70.1a1.4 1.4 0 1 0 2.8 0a1.4 1.4 0 1 0 -2.8 0zM131.5 68.4a1.4 1.4 0 1 0 2.8 0a1.4 1.4 0 1 0 -2.8 0zM140.1 70.7a1.4 1.4 0 1 0 2.8 0a1.4 1.4 0 1 0 -2.8 0zM114.7 88.4a1.4 1.4 0 1 0 2.8 0a1.4 1.4 0 1 0 -2.8 0zM115.1 63.1a1.4 1.4 0 1 0 2.8 0a1.4 1.4 0 1 0 -2.8 0zM142.6 74.6a1.4 1.4 0 1 0 2.8 0a1.4 1.4 0 1 0 -2.8 0zM129.0 69.7a1.4 1.4 0 1 0 2.8 0a1.4 1.4 0 1 0 -2.8 0zM116.6 85.6a1.4 1.4 0 1 0 2.8 0a1.4 1.4 0 1 0 -2.8 0zM125.3 81.0a1.4 1.4 0 1 0 2.8 0a1.4 1.4 0 1 0 -2.8 0zM88.5 84.0a1.4 1.4 0 1 0 2.8 0a1.4 1.4 0 1 0 -2.8 0zM103.4 84.3a1.4 1.4 0 1 0 2.8 0a1.4 1.4 0 1 0 -2.8 0zM135.8 75.4a1.4 1.4 0 1 0 2.8 0a1.4 1.4 0 1 0 -2.8 0zM136.4 60.1a1.4 1.4 0 1 0 2.8 0a1.4 1.4 0 1 0 -2.8 0zM115.6 73.7a1.4 1.4 0 1 0 2.8 0a1.4 1.4 0 1 0 -2.8 0zM90.3 85.0a1.4 1.4 0 1 0 2.8 0a1.4 1.4 0 1 0 -2.8 0zM134.3 84.4a1.4 1.4 0 1 0 2.8 0a1.4 1.4 0 1 0 -2.8 0zM137.4 78.7a1.4 1.4 0 1 0 2.8 0a1.4 1.4 0 1 0 -2.8 0zM123.3 55.4a1.4 1.4 0 1 0 2.8 0a1.4 1.4 0 1 0 -2.8 0zM120.6 85.8a1.4 1.4 0 1 0 2.8 0a1.4 1.4 0 1 0 -2.8 0zM148.1 57.5a1.4 1.4 0 1 0 2.8 0a1.4 1.4 0 1 0 -2.8 0zM130.8 62.9a1.4 1.4 0 1 0 2.8 0a1.4 1.4 0 1 0 -2.8 0zM124.8 63.8a1.4 1.4 0 1 0 2.8 0a1.4 1.4 0 1 0 -2.8 0zM99.9 74.9a1.4 1.4 0 1 0 2.8 0a1.4 1.4 0 1 0 -2.8 0zM109.7 67.3a1.4 1.4 0 1 0 2.8 0a1.4 1.4 0 1 0 -2.8 0zM142.9 76.9a1.4 1.4 0 1 0 2.8 0a1.4 1.4 0 1 0 -2.8 0zM139.4 80.8a1.4 1.4 0 1 0 2.8 0a1.4 1.4 0 1 0 -2.8 0zM102.3 69.6a1.4 1.4 0 1 0 2.8 0a1.4 1.4 0 1 0 -2.8 0zM119.3 85.0a1.4 1.4 0 1 0 2.8 0a1.4 1.4 0 1 0 -2.8 0zM105.1 83.8a1.4 1.4 0 1 0 2.8 0a1.4 1.4 0 1 0 -2.8 0zM136.4 83.7a1.4 1.4 0 1 0 2.8 0a1.4 1.4 0 1 0 -2.8 0zM132.4 58.2a1.4 1.4 0 1 0 2.8 0a1.4 1.4 0 1 0 -2.8 0zM102.9 64.1a1.4 1.4 0 1 0 2.8 0a1.4 1.4 0 1 0 -2.8 0zM101.7 73.9a1.4 1.4 0 1 0 2.8 0a1.4 1.4 0 1 0 -2.8 0zM104.4 81.1a1.4 1.4 0 1 0 2.8 0a1.4 1.4 0 1 0 -2.8 0zM102.1 84.7a1.4 1.4 0 1 0 2.8 0a1.4 1.4 0 1 0 -2.8 0zM143.7 73.2a1.4 1.4 0 1 0 2.8 0a1.4 1.4 0 1 0 -2.8 0zM134.3 60.2a1.4 1.4 0 1 0 2.8 0a1.4 1.4 0 1 0 -2.8 0zM120.4 84.2a1.4 1.4 0 1 0 2.8 0a1.4 1.4 0 1 0 -2.8 0zM126.8 64.7a1.4 1.4 0 1 0 2.8 0a1.4 1.4 0 1 0 -2.8 0zM120.3 69.4a1.4 1.4 0 1 0 2.8 0a1.4 1.4 0 1 0 -2.8 0zM143.1 65.8a1.4 1.4 0 1 0 2.8 0a1.4 1.4 0 1 0 -2.8 0zM116.8 74.8a1.4 1.4 0 1 0 2.8 0a1.4 1.4 0 1 0 -2.8 0zM117.4 72.7a1.4 1.4 0 1 0 2.8 0a1.4 1.4 0 1 0 -2.8 0zM136.7 80.7a1.4 1.4 0 1 0 2.8 0a1.4 1.4 0 1 0 -2.8 0zM125.4 61.8a1.4 1.4 0 1 0 2.8 0a1.4 1.4 0 1 0 -2.8 0zM136.6 50.7a1.4 1.4 0 1 0 2.8 0a1.4 1.4 0 1 0 -2.8 0zM103.2 74.4a1.4 1.4 0 1 0 2.8 0a1.4 1.4 0 1 0 -2.8 0zM134.9 65.9a1.4 1.4 0 1 0 2.8 0a1.4 1.4 0 1 0 -2.8 0zM119.7 65.0a1.4 1.4 0 1 0 2.8 0a1.4 1.4 0 1 0 -2.8 0zM105.6 65.4a1.4 1.4 0 1 0 2.8 0a1.4 1.4 0 1 0 -2.8 0zM131.5 75.6a1.4 1.4 0 1 0 2.8 0a1.4 1.4 0 1 0 -2.8 0zM141.9 66.3a1.4 1.4 0 1 0 2.8 0a1.4 1.4 0 1 0 -2.8 0zM139.3 80.8a1.4 1.4 0 1 0 2.8 0a1.4 1.4 0 1 0 -2.8 0zM121.7 62.1a1.4 1.4 0 1 0 2.8 0a1.4 1.4 0 1 0 -2.8 0zM121.6 79.1a1.4 1.4 0 1 0 2.8 0a1.4 1.4 0 1 0 -2.8 0zM129.8 67.3a1.4 1.4 0 1 0 2.8 0a1.4 1.4 0 1 0 -2.8 0zM97.5 84.1a1.4 1.4 0 1 0 2.8 0a1.4 1.4 0 1 0 -2.8 0zM136.8 80.7a1.4 1.4 0 1 0 2.8 0a1.4 1.4 0 1 0 -2.8 0zM111.7 85.3a1.4 1.4 0 1 0 2.8 0a1.4 1.4 0 1 0 -2.8 0zM144.1 66.9a1.4 1.4 0 1 0 2.8 0a1.4 1.4 0 1 0 -2.8 0zM114.3 60.1a1.4 1.4 0 1 0 2.8 0a1.4 1.4 0 1 0 -2.8 0zM115.5 78.5a1.4 1.4 0 1 0 2.8 0a1.4 1.4 0 1 0 -2.8 0zM138.7 74.4a1.4 1.4 0 1 0 2.8 0a1.4 1.4 0 1 0 -2.8 0zM150.0 59.4a1.4 1.4 0 1 0 2.8 0a1.4 1.4 0 1 0 -2.8 0zM119.1 63.7a1.4 1.4 0 1 0 2.8 0a1.4 1.4 0 1 0 -2.8 0zM121.9 76.6a1.4 1.4 0 1 0 2.8 0a1.4 1.4 0 1 0 -2.8 0zM144.8 50.8a1.4 1.4 0 1 0 2.8 0a1.4 1.4 0 1 0 -2.8 0zM88.9 84.0a1.4 1.4 0 1 0 2.8 0a1.4 1.4 0 1 0 -2.8 0zM107.5 71.8a1.4 1.4 0 1 0 2.8 0a1.4 1.4 0 1 0 -2.8 0zM134.5 61.2a1.4 1.4 0 1 0 2.8 0a1.4 1.4 0 1 0 -2.8 0zM149.2 65.9a1.4 1.4 0 1 0 2.8 0a1.4 1.4 0 1 0 -2.8 0zM121.5 58.2a1.4 1.4 0 1 0 2.8 0a1.4 1.4 0 1 0 -2.8 0zM103.3 85.1a1.4 1.4 0 1 0 2.8 0a1.4 1.4 0 1 0 -2.8 0zM110.9 63.9a1.4 1.4 0 1 0 2.8 0a1.4 1.4 0 1 0 -2.8 0zM105.6 87.0a1.4 1.4 0 1 0 2.8 0a1.4 1.4 0 1 0 -2.8 0zM134.8 64.5a1.4 1.4 0 1 0 2.8 0a1.4 1.4 0 1 0 -2.8 0zM98.7 77.4a1.4 1.4 0 1 0 2.8 0a1.4 1.4 0 1 0 -2.8 0zM138.8 57.4a1.4 1.4 0 1 0 2.8 0a1.4 1.4 0 1 0 -2.8 0zM133.1 58.9a1.4 1.4 0 1 0 2.8 0a1.4 1.4 0 1 0 -2.8 0zM132.1 58.8a1.4 1.4 0 1 0 2.8 0a1.4 1.4 0 1 0 -2.8 0zM115.7 65.8a1.4 1.4 0 1 0 2.8 0a1.4 1.4 0 1 0 -2.8 0zM117.9 85.3a1.4 1.4 0 1 0 2.8 0a1.4 1.4 0 1 0 -2.8 0zM108.3 79.3a1.4 1.4 0 1 0 2.8 0a1.4 1.4 0 1 0 -2.8 0zM93.4 83.2a1.4 1.4 0 1 0 2.8 0a1.4 1.4 0 1 0 -2.8 0zM128.3 60.6a1.4 1.4 0 1 0 2.8 0a1.4 1.4 0 1 0 -2.8 0zM124.1 82.4a1.4 1.4 0 1 0 2.8 0a1.4 1.4 0 1 0 -2.8 0zM127.0 84.1a1.4 1.4 0 1 0 2.8 0a1.4 1.4 0 1 0 -2.8 0zM102.0 80.7a1.4 1.4 0 1 0 2.8 0a1.4 1.4 0 1 0 -2.8 0zM125.3 66.5a1.4 1.4 0 1 0 2.8 0a1.4 1.4 0 1 0 -2.8 0zM127.9 76.7a1.4 1.4 0 1 0 2.8 0a1.4 1.4 0 1 0 -2.8 0zM121.7 58.3a1.4 1.4 0 1 0 2.8 0a1.4 1.4 0 1 0 -2.8 0zM115.4 65.5a1.4 1.4 0 1 0 2.8 0a1.4 1.4 0 1 0 -2.8 0zM121.2 56.8a1.4 1.4 0 1 0 2.8 0a1.4 1.4 0 1 0 -2.8 0zM126.2 80.4a1.4 1.4 0 1 0 2.8 0a1.4 1.4 0 1 0 -2.8 0zM117.9 63.5a1.4 1.4 0 1 0 2.8 0a1.4 1.4 0 1 0 -2.8 0zM99.2 85.7a1.4 1.4 0 1 0 2.8 0a1.4 1.4 0 1 0 -2.8 0zM107.1 84.1a1.4 1.4 0 1 0 2.8 0a1.4 1.4 0 1 0 -2.8 0zM112.9 58.7a1.4 1.4 0 1 0 2.8 0a1.4 1.4 0 1 0 -2.8 0zM129.9 61.4a1.4 1.4 0 1 0 2.8 0a1.4 1.4 0 1 0 -2.8 0zM89.3 81.9a1.4 1.4 0 1 0 2.8 0a1.4 1.4 0 1 0 -2.8 0zM134.0 53.8a1.4 1.4 0 1 0 2.8 0a1.4 1.4 0 1 0 -2.8 0zM133.9 71.4a1.4 1.4 0 1 0 2.8 0a1.4 1.4 0 1 0 -2.8 0zM105.6 83.5a1.4 1.4 0 1 0 2.8 0a1.4 1.4 0 1 0 -2.8 0zM102.7 76.8a1.4 1.4 0 1 0 2.8 0a1.4 1.4 0 1 0 -2.8 0zM95.2 88.5a1.4 1.4 0 1 0 2.8 0a1.4 1.4 0 1 0 -2.8 0zM132.7 68.0a1.4 1.4 0 1 0 2.8 0a1.4 1.4 0 1 0 -2.8 0zM115.1 61.2a1.4 1.4 0 1 0 2.8 0a1.4 1.4 0 1 0 -2.8 0zM116.7 66.9a1.4 1.4 0 1 0 2.8 0a1.4 1.4 0 1 0 -2.8 0zM126.0 62.5a1.4 1.4 0 1 0 2.8 0a1.4 1.4 0 1 0 -2.8 0zM133.2 79.0a1.4 1.4 0 1 0 2.8 0a1.4 1.4 0 1 0 -2.8 0zM123.9 63.5a1.4 1.4 0 1 0 2.8 0a1.4 1.4 0 1 0 -2.8 0zM124.4 84.3a1.4 1.4 0 1 0 2.8 0a1.4 1.4 0 1 0 -2.8 0zM104.4 74.5a1.4 1.4 0 1 0 2.8 0a1.4 1.4 0 1 0 -2.8 0zM112.4 75.1a1.4 1.4 0 1 0 2.8 0a1.4 1.4 0 1 0 -2.8 0zM115.3 64.5a1.4 1.4 0 1 0 2.8 0a1.4 1.4 0 1 0 -2.8 0zM112.8 76.3a1.4 1.4 0 1 0 2.8 0a1.4 1.4 0 1 0 -2.8 0zM145.2 75.3a1.4 1.4 0 1 0 2.8 0a1.4 1.4 0 1 0 -2.8 0zM134.1 82.8a1.4 1.4 0 1 0 2.8 0a1.4 1.4 0 1 0 -2.8 0zM144.4 52.7a1.4 1.4 0 1 0 2.8 0a1.4 1.4 0 1 0 -2.8 0zM126.6 82.1a1.4 1.4 0 1 0 2.8 0a1.4 1.4 0 1 0 -2.8 0zM135.9 69.1a1.4 1.4 0 1 0 2.8 0a1.4 1.4 0 1 0 -2.8 0zM114.2 61.3a1.4 1.4 0 1 0 2.8 0a1.4 1.4 0 1 0 -2.8 0zM139.1 71.4a1.4 1.4 0 1 0 2.8 0a1.4 1.4 0 1 0 -2.8 0zM131.7 84.4a1.4 1.4 0 1 0 2.8 0a1.4 1.4 0 1 0 -2.8 0zM120.1 77.2a1.4 1.4 0 1 0 2.8 0a1.4 1.4 0 1 0 -2.8 0zM111.9 84.9a1.4 1.4 0 1 0 2.8 0a1.4 1.4 0 1 0 -2.8 0zM106.9 75.6a1.4 1.4 0 1 0 2.8 0a1.4 1.4 0 1 0 -2.8 0zM142.0 53.7a1.4 1.4 0 1 0 2.8 0a1.4 1.4 0 1 0 -2.8 0zM102.2 88.7a1.4 1.4 0 1 0 2.8 0a1.4 1.4 0 1 0 -2.8 0zM134.1 76.0a1.4 1.4 0 1 0 2.8 0a1.4 1.4 0 1 0 -2.8 0zM132.0 62.2a1.4 1.4 0 1 0 2.8 0a1.4 1.4 0 1 0 -2.8 0zM131.4 64.4a1.4 1.4 0 1 0 2.8 0a1.4 1.4 0 1 0 -2.8 0zM110.9 76.1a1.4 1.4 0 1 0 2.8 0a1.4 1.4 0 1 0 -2.8 0zM133.5 51.1a1.4 1.4 0 1 0 2.8 0a1.4 1.4 0 1 0 -2.8 0zM98.3 81.5a1.4 1.4 0 1 0 2.8 0a1.4 1.4 0 1 0 -2.8 0zM131.9 65.8a1.4 1.4 0 1 0 2.8 0a1.4 1.4 0 1 0 -2.8 0zM133.1 64.7a1.4 1.4 0 1 0 2.8 0a1.4 1.4 0 1 0 -2.8 0zM109.6 77.5a1.4 1.4 0 1 0 2.8 0a1.4 1.4 0 1 0 -2.8 0zM144.2 66.9a1.4 1.4 0 1 0 2.8 0a1.4 1.4 0 1 0 -2.8 0zM120.8 67.0a1.4 1.4 0 1 0 2.8 0a1.4 1.4 0 1 0 -2.8 0zM98.9 88.5a1.4 1.4 0 1 0 2.8 0a1.4 1.4 0 1 0 -2.8 0zM142.7 54.4a1.4 1.4 0 1 0 2.8 0a1.4 1.4 0 1 0 -2.8 0zM98.7 83.5a1.4 1.4 0 1 0 2.8 0a1.4 1.4 0 1 0 -2.8 0zM120.9 76.4a1.4 1.4 0 1 0 2.8 0a1.4 1.4 0 1 0 -2.8 0zM141.7 61.1a1.4 1.4 0 1 0 2.8 0a1.4 1.4 0 1 0 -2.8 0zM104.6 79.3a1.4 1.4 0 1 0 2.8 0a1.4 1.4 0 1 0 -2.8 0zM110.6 75.4a1.4 1.4 0 1 0 2.8 0a1.4 1.4 0 1 0 -2.8 0zM129.3 74.9a1.4 1.4 0 1 0 2.8 0a1.4 1.4 0 1 0 -2.8 0zM112.9 70.7a1.4 1.4 0 1 0 2.8 0a1.4 1.4 0 1 0 -2.8 0zM141.8 64.6a1.4 1.4 0 1 0 2.8 0a1.4 1.4 0 1 0 -2.8 0zM149.4 55.4a1.4 1.4 0 1 0 2.8 0a1.4 1.4 0 1 0 -2.8 0zM136.7 74.0a1.4 1.4 0 1 0 2.8 0a1.4 1.4 0 1 0 -2.8 0zM150.4 60.8a1.4 1.4 0 1 0 2.8 0a1.4 1.4 0 1 0 -2.8 0zM142.8 54.8a1.4 1.4 0 1 0 2.8 0a1.4 1.4 0 1 0 -2.8 0zM103.0 69.2a1.4 1.4 0 1 0 2.8 0a1.4 1.4 0 1 0 -2.8 0zM141.5 75.8a1.4 1.4 0 1 0 2.8 0a1.4 1.4 0 1 0 -2.8 0zM136.3 70.6a1.4 1.4 0 1 0 2.8 0a1.4 1.4 0 1 0 -2.8 0zM147.5 72.1a1.4 1.4 0 1 0 2.8 0a1.4 1.4 0 1 0 -2.8 0zM146.6 53.9a1.4 1.4 0 1 0 2.8 0a1.4 1.4 0 1 0 -2.8 0zM108.6 69.7a1.4 1.4 0 1 0 2.8 0a1.4 1.4 0 1 0 -2.8 0zM142.4 76.9a1.4 1.4 0 1 0 2.8 0a1.4 1.4 0 1 0 -2.8 0zM137.8 80.9a1.4 1.4 0 1 0 2.8 0a1.4 1.4 0 1 0 -2.8 0zM116.6 64.3a1.4 1.4 0 1 0 2.8 0a1.4 1.4 0 1 0 -2.8 0zM131.1 70.6a1.4 1.4 0 1 0 2.8 0a1.4 1.4 0 1 0 -2.8 0zM149.0 57.0a1.4 1.4 0 1 0 2.8 0a1.4 1.4 0 1 0 -2.8 0zM135.0 73.6a1.4 1.4 0 1 0 2.8 0a1.4 1.4 0 1 0 -2.8 0zM98.0 85.2a1.4 1.4 0 1 0 2.8 0a1.4 1.4 0 1 0 -2.8 0zM136.5 71.2a1.4 1.4 0 1 0 2.8 0a1.4 1.4 0 1 0 -2.8 0zM112.3 87.7a1.4 1.4 0 1 0 2.8 0a1.4 1.4 0 1 0 -2.8 0zM106.9 76.3a1.4 1.4 0 1 0 2.8 0a1.4 1.4 0 1 0 -2.8 0zM124.8 56.2a1.4 1.4 0 1 0 2.8 0a1.4 1.4 0 1 0 -2.8 0zM132.8 62.0a1.4 1.4 0 1 0 2.8 0a1.4 1.4 0 1 0 -2.8 0zM112.8 60.2a1.4 1.4 0 1 0 2.8 0a1.4 1.4 0 1 0 -2.8 0zM99.9 80.1a1.4 1.4 0 1 0 2.8 0a1.4 1.4 0 1 0 -2.8 0zM129.4 82.1a1.4 1.4 0 1 0 2.8 0a1.4 1.4 0 1 0 -2.8 0zM139.2 69.8a1.4 1.4 0 1 0 2.8 0a1.4 1.4 0 1 0 -2.8 0zM114.1 64.9a1.4 1.4 0 1 0 2.8 0a1.4 1.4 0 1 0 -2.8 0zM118.6 72.8a1.4 1.4 0 1 0 2.8 0a1.4 1.4 0 1 0 -2.8 0zM117.9 85.6a1.4 1.4 0 1 0 2.8 0a1.4 1.4 0 1 0 -2.8 0zM112.8 87.3a1.4 1.4 0 1 0 2.8 0a1.4 1.4 0 1 0 -2.8 0zM121.7 55.7a1.4 1.4 0 1 0 2.8 0a1.4 1.4 0 1 0 -2.8 0zM125.2 78.7a1.4 1.4 0 1 0 2.8 0a1.4 1.4 0 1 0 -2.8 0zM139.5 76.9a1.4 1.4 0 1 0 2.8 0a1.4 1.4 0 1 0 -2.8 0zM148.1 51.7a1.4 1.4 0 1 0 2.8 0a1.4 1.4 0 1 0 -2.8 0zM110.9 75.8a1.4 1.4 0 1 0 2.8 0a1.4 1.4 0 1 0 -2.8 0zM129.0 52.2a1.4 1.4 0 1 0 2.8 0a1.4 1.4 0 1 0 -2.8 0zM128.0 76.2a1.4 1.4 0 1 0 2.8 0a1.4 1.4 0 1 0 -2.8 0zM117.3 84.8a1.4 1.4 0 1 0 2.8 0a1.4 1.4 0 1 0 -2.8 0zM109.6 80.1a1.4 1.4 0 1 0 2.8 0a1.4 1.4 0 1 0 -2.8 0zM92.7 86.0a1.4 1.4 0 1 0 2.8 0a1.4 1.4 0 1 0 -2.8 0zM131.3 57.7a1.4 1.4 0 1 0 2.8 0a1.4 1.4 0 1 0 -2.8 0zM93.3 75.6a1.4 1.4 0 1 0 2.8 0a1.4 1.4 0 1 0 -2.8 0zM140.6 73.3a1.4 1.4 0 1 0 2.8 0a1.4 1.4 0 1 0 -2.8 0zM95.1 83.6a1.4 1.4 0 1 0 2.8 0a1.4 1.4 0 1 0 -2.8 0zM111.6 85.9a1.4 1.4 0 1 0 2.8 0a1.4 1.4 0 1 0 -2.8 0zM112.0 64.0a1.4 1.4 0 1 0 2.8 0a1.4 1.4 0 1 0 -2.8 0zM132.5 75.4a1.4 1.4 0 1 0 2.8 0a1.4 1.4 0 1 0 -2.8 0zM120.0 56.6a1.4 1.4 0 1 0 2.8 0a1.4 1.4 0 1 0 -2.8 0zM95.9 88.9a1.4 1.4 0 1 0 2.8 0a1.4 1.4 0 1 0 -2.8 0zM98.3 76.6a1.4 1.4 0 1 0 2.8 0a1.4 1.4 0 1 0 -2.8 0zM132.0 84.1a1.4 1.4 0 1 0 2.8 0a1.4 1.4 0 1 0 -2.8 0zM100.5 81.1a1.4 1.4 0 1 0 2.8 0a1.4 1.4 0 1 0 -2.8 0zM147.9 65.5a1.4 1.4 0 1 0 2.8 0a1.4 1.4 0 1 0 -2.8 0zM122.7 71.2a1.4 1.4 0 1 0 2.8 0a1.4 1.4 0 1 0 -2.8 0zM128.3 77.4a1.4 1.4 0 1 0 2.8 0a1.4 1.4 0 1 0 -2.8 0zM142.2 49.7a1.4 1.4 0 1 0 2.8 0a1.4 1.4 0 1 0 -2.8 0zM101.7 82.8a1.4 1.4 0 1 0 2.8 0a1.4 1.4 0 1 0 -2.8 0zM107.2 80.0a1.4 1.4 0 1 0 2.8 0a1.4 1.4 0 1 0 -2.8 0zM129.6 77.1a1.4 1.4 0 1 0 2.8 0a1.4 1.4 0 1 0 -2.8 0zM144.8 68.1a1.4 1.4 0 1 0 2.8 0a1.4 1.4 0 1 0 -2.8 0zM121.8 81.3a1.4 1.4 0 1 0 2.8 0a1.4 1.4 0 1 0 -2.8 0zM144.1 69.4a1.4 1.4 0 1 0 2.8 0a1.4 1.4 0 1 0 -2.8 0zM143.0 70.8a1.4 1.4 0 1 0 2.8 0a1.4 1.4 0 1 0 -2.8 0zM92.2 79.4a1.4 1.4 0 1 0 2.8 0a1.4 1.4 0 1 0 -2.8 0zM130.1 58.6a1.4 1.4 0 1 0 2.8 0a1.4 1.4 0 1 0 -2.8 0zM89.8 85.8a1.4 1.4 0 1 0 2.8 0a1.4 1.4 0 1 0 -2.8 0zM141.4 69.2a1.4 1.4 0 1 0 2.8 0a1.4 1.4 0 1 0 -2.8 0zM144.8 56.9a1.4 1.4 0 1 0 2.8 0a1.4 1.4 0 1 0 -2.8 0zM140.0 74.4a1.4 1.4 0 1 0 2.8 0a1.4 1.4 0 1 0 -2.8 0zM139.2 62.7a1.4 1.4 0 1 0 2.8 0a1.4 1.4 0 1 0 -2.8 0zM126.6 56.0a1.4 1.4 0 1 0 2.8 0a1.4 1.4 0 1 0 -2.8 0zM118.5 80.5a1.4 1.4 0 1 0 2.8 0a1.4 1.4 0 1 0 -2.8 0zM146.9 55.9a1.4 1.4 0 1 0 2.8 0a1.4 1.4 0 1 0 -2.8 0zM110.4 76.3a1.4 1.4 0 1 0 2.8 0a1.4 1.4 0 1 0 -2.8 0zM115.3 70.5a1.4 1.4 0 1 0 2.8 0a1.4 1.4 0 1 0 -2.8 0zM139.5 52.9a1.4 1.4 0 1 0 2.8 0a1.4 1.4 0 1 0 -2.8 0zM97.7 71.0a1.4 1.4 0 1 0 2.8 0a1.4 1.4 0 1 0 -2.8 0zM132.8 62.7a1.4 1.4 0 1 0 2.8 0a1.4 1.4 0 1 0 -2.8 0zM114.6 68.2a1.4 1.4 0 1 0 2.8 0a1.4 1.4 0 1 0 -2.8 0zM130.8 80.5a1.4 1.4 0 1 0 2.8 0a1.4 1.4 0 1 0 -2.8 0zM124.6 57.4a1.4 1.4 0 1 0 2.8 0a1.4 1.4 0 1 0 -2.8 0zM144.0 54.2a1.4 1.4 0 1 0 2.8 0a1.4 1.4 0 1 0 -2.8 0zM137.3 62.5a1.4 1.4 0 1 0 2.8 0a1.4 1.4 0 1 0 -2.8 0zM135.2 57.7a1.4 1.4 0 1 0 2.8 0a1.4 1.4 0 1 0 -2.8 0zM143.6 58.1a1.4 1.4 0 1 0 2.8 0a1.4 1.4 0 1 0 -2.8 0zM120.9 58.8a1.4 1.4 0 1 0 2.8 0a1.4 1.4 0 1 0 -2.8 0zM124.5 75.4a1.4 1.4 0 1 0 2.8 0a1.4 1.4 0 1 0 -2.8 0zM145.6 75.7a1.4 1.4 0 1 0 2.8 0a1.4 1.4 0 1 0 -2.8 0zM137.5 51.9a1.4 1.4 0 1 0 2.8 0a1.4 1.4 0 1 0 -2.8 0zM108.7 73.7a1.4 1.4 0 1 0 2.8 0a1.4 1.4 0 1 0 -2.8 0zM122.2 64.7a1.4 1.4 0 1 0 2.8 0a1.4 1.4 0 1 0 -2.8 0zM145.2 59.6a1.4 1.4 0 1 0 2.8 0a1.4 1.4 0 1 0 -2.8 0zM145.4 69.3a1.4 1.4 0 1 0 2.8 0a1.4 1.4 0 1 0 -2.8 0zM131.2 67.4a1.4 1.4 0 1 0 2.8 0a1.4 1.4 0 1 0 -2.8 0zM102.2 66.3a1.4 1.4 0 1 0 2.8 0a1.4 1.4 0 1 0 -2.8 0zM128.7 84.8a1.4 1.4 0 1 0 2.8 0a1.4 1.4 0 1 0 -2.8 0zM102.7 80.5a1.4 1.4 0 1 0 2.8 0a1.4 1.4 0 1 0 -2.8 0zM95.1 73.7a1.4 1.4 0 1 0 2.8 0a1.4 1.4 0 1 0 -2.8 0zM126.7 60.6a1.4 1.4 0 1 0 2.8 0a1.4 1.4 0 1 0 -2.8 0zM128.4 62.1a1.4 1.4 0 1 0 2.8 0a1.4 1.4 0 1 0 -2.8 0zM149.5 59.9a1.4 1.4 0 1 0 2.8 0a1.4 1.4 0 1 0 -2.8 0zM99.6 72.8a1.4 1.4 0 1 0 2.8 0a1.4 1.4 0 1 0 -2.8 0zM105.5 61.8a1.4 1.4 0 1 0 2.8 0a1.4 1.4 0 1 0 -2.8 0zM138.5 73.1a1.4 1.4 0 1 0 2.8 0a1.4 1.4 0 1 0 -2.8 0zM137.0 79.8a1.4 1.4 0 1 0 2.8 0a1.4 1.4 0 1 0 -2.8 0zM141.4 51.6a1.4 1.4 0 1 0 2.8 0a1.4 1.4 0 1 0 -2.8 0zM144.9 59.4a1.4 1.4 0 1 0 2.8 0a1.4 1.4 0 1 0 -2.8 0zM112.1 84.0a1.4 1.4 0 1 0 2.8 0a1.4 1.4 0 1 0 -2.8 0zM131.9 78.9a1.4 1.4 0 1 0 2.8 0a1.4 1.4 0 1 0 -2.8 0zM140.2 78.3a1.4 1.4 0 1 0 2.8 0a1.4 1.4 0 1 0 -2.8 0zM137.7 76.1a1.4 1.4 0 1 0 2.8 0a1.4 1.4 0 1 0 -2.8 0zM97.3 82.3a1.4 1.4 0 1 0 2.8 0a1.4 1.4 0 1 0 -2.8 0zM104.8 74.0a1.4 1.4 0 1 0 2.8 0a1.4 1.4 0 1 0 -2.8 0zM109.4 78.6a1.4 1.4 0 1 0 2.8 0a1.4 1.4 0 1 0 -2.8 0zM138.0 72.9a1.4 1.4 0 1 0 2.8 0a1.4 1.4 0 1 0 -2.8 0zM90.5 80.3a1.4 1.4 0 1 0 2.8 0a1.4 1.4 0 1 0 -2.8 0zM118.6 78.9a1.4 1.4 0 1 0 2.8 0a1.4 1.4 0 1 0 -2.8 0zM100.9 75.3a1.4 1.4 0 1 0 2.8 0a1.4 1.4 0 1 0 -2.8 0zM101.2 72.4a1.4 1.4 0 1 0 2.8 0a1.4 1.4 0 1 0 -2.8 0zM112.4 83.9a1.4 1.4 0 1 0 2.8 0a1.4 1.4 0 1 0 -2.8 0zM101.6 73.2a1.4 1.4 0 1 0 2.8 0a1.4 1.4 0 1 0 -2.8 0zM140.1 63.4a1.4 1.4 0 1 0 2.8 0a1.4 1.4 0 1 0 -2.8 0zM131.7 60.0a1.4 1.4 0 1 0 2.8 0a1.4 1.4 0 1 0 -2.8 0zM103.2 83.8a1.4 1.4 0 1 0 2.8 0a1.4 1.4 0 1 0 -2.8 0zM100.4 83.2a1.4 1.4 0 1 0 2.8 0a1.4 1.4 0 1 0 -2.8 0zM127.4 74.1a1.4 1.4 0 1 0 2.8 0a1.4 1.4 0 1 0 -2.8 0zM98.9 84.9a1.4 1.4 0 1 0 2.8 0a1.4 1.4 0 1 0 -2.8 0zM128.4 75.2a1.4 1.4 0 1 0 2.8 0a1.4 1.4 0 1 0 -2.8 0zM120.1 68.8a1.4 1.4 0 1 0 2.8 0a1.4 1.4 0 1 0 -2.8 0zM126.9 64.8a1.4 1.4 0 1 0 2.8 0a1.4 1.4 0 1 0 -2.8 0zM117.5 61.7a1.4 1.4 0 1 0 2.8 0a1.4 1.4 0 1 0 -2.8 0zM135.5 77.3a1.4 1.4 0 1 0 2.8 0a1.4 1.4 0 1 0 -2.8 0zM123.4 63.4a1.4 1.4 0 1 0 2.8 0a1.4 1.4 0 1 0 -2.8 0zM142.6 71.3a1.4 1.4 0 1 0 2.8 0a1.4 1.4 0 1 0 -2.8 0zM118.2 63.9a1.4 1.4 0 1 0 2.8 0a1.4 1.4 0 1 0 -2.8 0zM139.1 72.9a1.4 1.4 0 1 0 2.8 0a1.4 1.4 0 1 0 -2.8 0zM134.6 76.9a1.4 1.4 0 1 0 2.8 0a1.4 1.4 0 1 0 -2.8 0zM103.1 75.9a1.4 1.4 0 1 0 2.8 0a1.4 1.4 0 1 0 -2.8 0zM113.3 75.6a1.4 1.4 0 1 0 2.8 0a1.4 1.4 0 1 0 -2.8 0zM116.8 76.3a1.4 1.4 0 1 0 2.8 0a1.4 1.4 0 1 0 -2.8 0zM106.1 77.2a1.4 1.4 0 1 0 2.8 0a1.4 1.4 0 1 0 -2.8 0zM111.4 85.6a1.4 1.4 0 1 0 2.8 0a1.4 1.4 0 1 0 -2.8 0zM108.9 81.9a1.4 1.4 0 1 0 2.8 0a1.4 1.4 0 1 0 -2.8 0zM115.7 84.8a1.4 1.4 0 1 0 2.8 0a1.4 1.4 0 1 0 -2.8 0zM130.8 57.3a1.4 1.4 0 1 0 2.8 0a1.4 1.4 0 1 0 -2.8 0zM134.5 72.0a1.4 1.4 0 1 0 2.8 0a1.4 1.4 0 1 0 -2.8 0zM107.2 75.6a1.4 1.4 0 1 0 2.8 0a1.4 1.4 0 1 0 -2.8 0zM116.8 72.8a1.4 1.4 0 1 0 2.8 0a1.4 1.4 0 1 0 -2.8 0zM146.1 64.4a1.4 1.4 0 1 0 2.8 0a1.4 1.4 0 1 0 -2.8 0zM104.2 66.1a1.4 1.4 0 1 0 2.8 0a1.4 1.4 0 1 0 -2.8 0zM137.6 72.6a1.4 1.4 0 1 0 2.8 0a1.4 1.4 0 1 0 -2.8 0zM138.8 54.0a1.4 1.4 0 1 0 2.8 0a1.4 1.4 0 1 0 -2.8 0zM122.4 68.2a1.4 1.4 0 1 0 2.8 0a1.4 1.4 0 1 0 -2.8 0zM140.1 55.3a1.4 1.4 0 1 0 2.8 0a1.4 1.4 0 1 0 -2.8 0zM135.9 66.7a1.4 1.4 0 1 0 2.8 0a1.4 1.4 0 1 0 -2.8 0zM96.6 78.6a1.4 1.4 0 1 0 2.8 0a1.4 1.4 0 1 0 -2.8 0zM104.3 77.3a1.4 1.4 0 1 0 2.8 0a1.4 1.4 0 1 0 -2.8 0zM130.4 76.5a1.4 1.4 0 1 0 2.8 0a1.4 1.4 0 1 0 -2.8 0zM96.2 80.6a1.4 1.4 0 1 0 2.8 0a1.4 1.4 0 1 0 -2.8 0zM100.1 83.5a1.4 1.4 0 1 0 2.8 0a1.4 1.4 0 1 0 -2.8 0zM140.7 59.2a1.4 1.4 0 1 0 2.8 0a1.4 1.4 0 1 0 -2.8 0zM118.6 75.3a1.4 1.4 0 1 0 2.8 0a1.4 1.4 0 1 0 -2.8 0zM117.6 77.4a1.4 1.4 0 1 0 2.8 0a1.4 1.4 0 1 0 -2.8 0zM97.9 72.8a1.4 1.4 0 1 0 2.8 0a1.4 1.4 0 1 0 -2.8 0zM106.4 82.4a1.4 1.4 0 1 0 2.8 0a1.4 1.4 0 1 0 -2.8 0zM125.0 74.2a1.4 1.4 0 1 0 2.8 0a1.4 1.4 0 1 0 -2.8 0zM117.3 73.0a1.4 1.4 0 1 0 2.8 0a1.4 1.4 0 1 0 -2.8 0zM123.2 72.9a1.4 1.4 0 1 0 2.8 0a1.4 1.4 0 1 0 -2.8 0zM112.5 78.4a1.4 1.4 0 1 0 2.8 0a1.4 1.4 0 1 0 -2.8 0zM123.0 80.1a1.4 1.4 0 1 0 2.8 0a1.4 1.4 0 1 0 -2.8 0zM141.1 71.4a1.4 1.4 0 1 0 2.8 0a1.4 1.4 0 1 0 -2.8 0zM134.5 64.6a1.4 1.4 0 1 0 2.8 0a1.4 1.4 0 1 0 -2.8 0zM102.2 85.6a1.4 1.4 0 1 0 2.8 0a1.4 1.4 0 1 0 -2.8 0zM134.0 70.9a1.4 1.4 0 1 0 2.8 0a1.4 1.4 0 1 0 -2.8 0zM122.7 82.1a1.4 1.4 0 1 0 2.8 0a1.4 1.4 0 1 0 -2.8 0zM140.6 70.7a1.4 1.4 0 1 0 2.8 0a1.4 1.4 0 1 0 -2.8 0zM141.3 62.3a1.4 1.4 0 1 0 2.8 0a1.4 1.4 0 1 0 -2.8 0zM116.8 64.5a1.4 1.4 0 1 0 2.8 0a1.4 1.4 0 1 0 -2.8 0zM125.9 78.1a1.4 1.4 0 1 0 2.8 0a1.4 1.4 0 1 0 -2.8 0zM102.5 71.7a1.4 1.4 0 1 0 2.8 0a1.4 1.4 0 1 0 -2.8 0zM111.2 70.0a1.4 1.4 0 1 0 2.8 0a1.4 1.4 0 1 0 -2.8 0zM120.1 60.9a1.4 1.4 0 1 0 2.8 0a1.4 1.4 0 1 0 -2.8 0zM129.9 61.5a1.4 1.4 0 1 0 2.8 0a1.4 1.4 0 1 0 -2.8 0zM143.2 63.1a1.4 1.4 0 1 0 2.8 0a1.4 1.4 0 1 0 -2.8 0zM127.5 73.0a1.4 1.4 0 1 0 2.8 0a1.4 1.4 0 1 0 -2.8 0zM133.7 54.6a1.4 1.4 0 1 0 2.8 0a1.4 1.4 0 1 0 -2.8 0zM98.1 81.9a1.4 1.4 0 1 0 2.8 0a1.4 1.4 0 1 0 -2.8 0zM128.3 69.5a1.4 1.4 0 1 0 2.8 0a1.4 1.4 0 1 0 -2.8 0zM129.2 80.0a1.4 1.4 0 1 0 2.8 0a1.4 1.4 0 1 0 -2.8 0zM104.8 87.6a1.4 1.4 0 1 0 2.8 0a1.4 1.4 0 1 0 -2.8 0zM130.1 76.4a1.4 1.4 0 1 0 2.8 0a1.4 1.4 0 1 0 -2.8 0zM121.3 82.0a1.4 1.4 0 1 0 2.8 0a1.4 1.4 0 1 0 -2.8 0zM142.5 61.9a1.4 1.4 0 1 0 2.8 0a1.4 1.4 0 1 0 -2.8 0zM127.1 75.9a1.4 1.4 0 1 0 2.8 0a1.4 1.4 0 1 0 -2.8 0zM144.4 69.9a1.4 1.4 0 1 0 2.8 0a1.4 1.4 0 1 0 -2.8 0zM112.3 66.2a1.4 1.4 0 1 0 2.8 0a1.4 1.4 0 1 0 -2.8 0zM142.7 66.7a1.4 1.4 0 1 0 2.8 0a1.4 1.4 0 1 0 -2.8 0zM134.8 58.2a1.4 1.4 0 1 0 2.8 0a1.4 1.4 0 1 0 -2.8 0zM117.0 68.9a1.4 1.4 0 1 0 2.8 0a1.4 1.4 0 1 0 -2.8 0zM104.1 64.9a1.4 1.4 0 1 0 2.8 0a1.4 1.4 0 1 0 -2.8 0zM146.0 63.6a1.4 1.4 0 1 0 2.8 0a1.4 1.4 0 1 0 -2.8 0zM102.4 86.3a1.4 1.4 0 1 0 2.8 0a1.4 1.4 0 1 0 -2.8 0zM127.3 70.1a1.4 1.4 0 1 0 2.8 0a1.4 1.4 0 1 0 -2.8 0zM133.7 61.5a1.4 1.4 0 1 0 2.8 0a1.4 1.4 0 1 0 -2.8 0zM100.0 85.0a1.4 1.4 0 1 0 2.8 0a1.4 1.4 0 1 0 -2.8 0zM98.6 80.2a1.4 1.4 0 1 0 2.8 0a1.4 1.4 0 1 0 -2.8 0zM115.6 77.9a1.4 1.4 0 1 0 2.8 0a1.4 1.4 0 1 0 -2.8 0zM133.8 68.5a1.4 1.4 0 1 0 2.8 0a1.4 1.4 0 1 0 -2.8 0zM132.3 57.5a1.4 1.4 0 1 0 2.8 0a1.4 1.4 0 1 0 -2.8 0zM91.6 83.8a1.4 1.4 0 1 0 2.8 0a1.4 1.4 0 1 0 -2.8 0zM117.8 80.0a1.4 1.4 0 1 0 2.8 0a1.4 1.4 0 1 0 -2.8 0zM120.8 64.6a1.4 1.4 0 1 0 2.8 0a1.4 1.4 0 1 0 -2.8 0zM99.7 85.3a1.4 1.4 0 1 0 2.8 0a1.4 1.4 0 1 0 -2.8 0zM112.7 73.1a1.4 1.4 0 1 0 2.8 0a1.4 1.4 0 1 0 -2.8 0zM134.3 58.7a1.4 1.4 0 1 0 2.8 0a1.4 1.4 0 1 0 -2.8 0zM120.2 64.2a1.4 1.4 0 1 0 2.8 0a1.4 1.4 0 1 0 -2.8 0zM95.3 81.8a1.4 1.4 0 1 0 2.8 0a1.4 1.4 0 1 0 -2.8 0zM115.4 81.0a1.4 1.4 0 1 0 2.8 0a1.4 1.4 0 1 0 -2.8 0zM135.4 74.3a1.4 1.4 0 1 0 2.8 0a1.4 1.4 0 1 0 -2.8 0zM102.0 69.7a1.4 1.4 0 1 0 2.8 0a1.4 1.4 0 1 0 -2.8 0zM124.8 74.4a1.4 1.4 0 1 0 2.8 0a1.4 1.4 0 1 0 -2.8 0zM125.8 61.8a1.4 1.4 0 1 0 2.8 0a1.4 1.4 0 1 0 -2.8 0zM111.8 84.9a1.4 1.4 0 1 0 2.8 0a1.4 1.4 0 1 0 -2.8 0zM130.9 65.4a1.4 1.4 0 1 0 2.8 0a1.4 1.4 0 1 0 -2.8 0zM136.5 76.0a1.4 1.4 0 1 0 2.8 0a1.4 1.4 0 1 0 -2.8 0zM115.8 60.8a1.4 1.4 0 1 0 2.8 0a1.4 1.4 0 1 0 -2.8 0zM106.2 69.8a1.4 1.4 0 1 0 2.8 0a1.4 1.4 0 1 0 -2.8 0zM130.2 74.7a1.4 1.4 0 1 0 2.8 0a1.4 1.4 0 1 0 -2.8 0zM121.8 73.8a1.4 1.4 0 1 0 2.8 0a1.4 1.4 0 1 0 -2.8 0zM125.2 57.7a1.4 1.4 0 1 0 2.8 0a1.4 1.4 0 1 0 -2.8 0zM132.8 70.0a1.4 1.4 0 1 0 2.8 0a1.4 1.4 0 1 0 -2.8 0zM123.8 72.8a1.4 1.4 0 1 0 2.8 0a1.4 1.4 0 1 0 -2.8 0zM106.6 69.9a1.4 1.4 0 1 0 2.8 0a1.4 1.4 0 1 0 -2.8 0zM106.8 72.9a1.4 1.4 0 1 0 2.8 0a1.4 1.4 0 1 0 -2.8 0zM137.5 62.4a1.4 1.4 0 1 0 2.8 0a1.4 1.4 0 1 0 -2.8 0zM133.4 57.8a1.4 1.4 0 1 0 2.8 0a1.4 1.4 0 1 0 -2.8 0zM110.9 82.4a1.4 1.4 0 1 0 2.8 0a1.4 1.4 0 1 0 -2.8 0zM97.6 81.7a1.4 1.4 0 1 0 2.8 0a1.4 1.4 0 1 0 -2.8 0zM105.6 73.2a1.4 1.4 0 1 0 2.8 0a1.4 1.4 0 1 0 -2.8 0zM101.4 70.6a1.4 1.4 0 1 0 2.8 0a1.4 1.4 0 1 0 -2.8 0zM131.4 78.1a1.4 1.4 0 1 0 2.8 0a1.4 1.4 0 1 0 -2.8 0zM112.3 80.6a1.4 1.4 0 1 0 2.8 0a1.4 1.4 0 1 0 -2.8 0zM140.8 58.2a1.4 1.4 0 1 0 2.8 0a1.4 1.4 0 1 0 -2.8 0zM118.1 65.2a1.4 1.4 0 1 0 2.8 0a1.4 1.4 0 1 0 -2.8 0zM139.2 69.5a1.4 1.4 0 1 0 2.8 0a1.4 1.4 0 1 0 -2.8 0zM135.3 57.1a1.4 1.4 0 1 0 2.8 0a1.4 1.4 0 1 0 -2.8 0zM127.8 68.2a1.4 1.4 0 1 0 2.8 0a1.4 1.4 0 1 0 -2.8 0zM118.1 66.6a1.4 1.4 0 1 0 2.8 0a1.4 1.4 0 1 0 -2.8 0zM128.0 60.9a1.4 1.4 0 1 0 2.8 0a1.4 1.4 0 1 0 -2.8 0zM112.6 75.3a1.4 1.4 0 1 0 2.8 0a1.4 1.4 0 1 0 -2.8 0zM141.0 67.6a1.4 1.4 0 1 0 2.8 0a1.4 1.4 0 1 0 -2.8 0zM112.1 66.4a1.4 1.4 0 1 0 2.8 0a1.4 1.4 0 1 0 -2.8 0zM108.4 72.0a1.4 1.4 0 1 0 2.8 0a1.4 1.4 0 1 0 -2.8 0zM103.8 71.3a1.4 1.4 0 1 0 2.8 0a1.4 1.4 0 1 0 -2.8 0zM111.3 77.2a1.4 1.4 0 1 0 2.8 0a1.4 1.4 0 1 0 -2.8 0zM121.8 72.4a1.4 1.4 0 1 0 2.8 0a1.4 1.4 0 1 0 -2.8 0zM125.7 69.5a1.4 1.4 0 1 0 2.8 0a1.4 1.4 0 1 0 -2.8 0zM98.6 88.6a1.4 1.4 0 1 0 2.8 0a1.4 1.4 0 1 0 -2.8 0zM114.3 79.0a1.4 1.4 0 1 0 2.8 0a1.4 1.4 0 1 0 -2.8 0zM144.5 62.1a1.4 1.4 0 1 0 2.8 0a1.4 1.4 0 1 0 -2.8 0zM129.5 61.3a1.4 1.4 0 1 0 2.8 0a1.4 1.4 0 1 0 -2.8 0zM124.8 59.4a1.4 1.4 0 1 0 2.8 0a1.4 1.4 0 1 0 -2.8 0zM104.3 77.0a1.4 1.4 0 1 0 2.8 0a1.4 1.4 0 1 0 -2.8 0zM147.0 59.8a1.4 1.4 0 1 0 2.8 0a1.4 1.4 0 1 0 -2.8 0zM122.6 81.6a1.4 1.4 0 1 0 2.8 0a1.4 1.4 0 1 0 -2.8 0zM97.9 88.3a1.4 1.4 0 1 0 2.8 0a1.4 1.4 0 1 0 -2.8 0zM107.9 65.8a1.4 1.4 0 1 0 2.8 0a1.4 1.4 0 1 0 -2.8 0zM120.7 79.3a1.4 1.4 0 1 0 2.8 0a1.4 1.4 0 1 0 -2.8 0zM138.2 61.4a1.4 1.4 0 1 0 2.8 0a1.4 1.4 0 1 0 -2.8 0zM127.3 74.7a1.4 1.4 0 1 0 2.8 0a1.4 1.4 0 1 0 -2.8 0zM137.4 73.9a1.4 1.4 0 1 0 2.8 0a1.4 1.4 0 1 0 -2.8 0zM100.0 70.0a1.4 1.4 0 1 0 2.8 0a1.4 1.4 0 1 0 -2.8 0zM107.6 63.6a1.4 1.4 0 1 0 2.8 0a1.4 1.4 0 1 0 -2.8 0zM125.2 71.6a1.4 1.4 0 1 0 2.8 0a1.4 1.4 0 1 0 -2.8 0zM109.5 86.6a1.4 1.4 0 1 0 2.8 0a1.4 1.4 0 1 0 -2.8 0zM144.9 58.5a1.4 1.4 0 1 0 2.8 0a1.4 1.4 0 1 0 -2.8 0zM100.6 77.6a1.4 1.4 0 1 0 2.8 0a1.4 1.4 0 1 0 -2.8 0zM130.3 79.7a1.4 1.4 0 1 0 2.8 0a1.4 1.4 0 1 0 -2.8 0zM142.2 54.2a1.4 1.4 0 1 0 2.8 0a1.4 1.4 0 1 0 -2.8 0zM110.5 68.7a1.4 1.4 0 1 0 2.8 0a1.4 1.4 0 1 0 -2.8 0zM141.6 54.5a1.4 1.4 0 1 0 2.8 0a1.4 1.4 0 1 0 -2.8 0zM112.2 68.2a1.4 1.4 0 1 0 2.8 0a1.4 1.4 0 1 0 -2.8 0zM106.5 68.8a1.4 1.4 0 1 0 2.8 0a1.4 1.4 0 1 0 -2.8 0zM126.1 75.1a1.4 1.4 0 1 0 2.8 0a1.4 1.4 0 1 0 -2.8 0zM119.2 60.4a1.4 1.4 0 1 0 2.8 0a1.4 1.4 0 1 0 -2.8 0zM129.9 68.8a1.4 1.4 0 1 0 2.8 0a1.4 1.4 0 1 0 -2.8 0zM124.9 78.9a1.4 1.4 0 1 0 2.8 0a1.4 1.4 0 1 0 -2.8 0zM138.8 66.0a1.4 1.4 0 1 0 2.8 0a1.4 1.4 0 1 0 -2.8 0zM113.8 69.4a1.4 1.4 0 1 0 2.8 0a1.4 1.4 0 1 0 -2.8 0zM123.0 66.5a1.4 1.4 0 1 0 2.8 0a1.4 1.4 0 1 0 -2.8 0zM103.5 75.6a1.4 1.4 0 1 0 2.8 0a1.4 1.4 0 1 0 -2.8 0zM107.2 69.7a1.4 1.4 0 1 0 2.8 0a1.4 1.4 0 1 0 -2.8 0zM144.9 59.4a1.4 1.4 0 1 0 2.8 0a1.4 1.4 0 1 0 -2.8 0zM144.4 54.4a1.4 1.4 0 1 0 2.8 0a1.4 1.4 0 1 0 -2.8 0zM114.9 69.5a1.4 1.4 0 1 0 2.8 0a1.4 1.4 0 1 0 -2.8 0zM117.6 70.5a1.4 1.4 0 1 0 2.8 0a1.4 1.4 0 1 0 -2.8 0zM138.2 61.5a1.4 1.4 0 1 0 2.8 0a1.4 1.4 0 1 0 -2.8 0zM100.0 83.3a1.4 1.4 0 1 0 2.8 0a1.4 1.4 0 1 0 -2.8 0zM103.9 80.1a1.4 1.4 0 1 0 2.8 0a1.4 1.4 0 1 0 -2.8 0zM107.7 79.4a1.4 1.4 0 1 0 2.8 0a1.4 1.4 0 1 0 -2.8 0zM135.4 76.4a1.4 1.4 0 1 0 2.8 0a1.4 1.4 0 1 0 -2.8 0zM103.3 67.3a1.4 1.4 0 1 0 2.8 0a1.4 1.4 0 1 0 -2.8 0zM119.1 80.7a1.4 1.4 0 1 0 2.8 0a1.4 1.4 0 1 0 -2.8 0zM113.1 71.0a1.4 1.4 0 1 0 2.8 0a1.4 1.4 0 1 0 -2.8 0zM93.9 84.3a1.4 1.4 0 1 0 2.8 0a1.4 1.4 0 1 0 -2.8 0zM145.7 61.0a1.4 1.4 0 1 0 2.8 0a1.4 1.4 0 1 0 -2.8 0zM105.5 68.8a1.4 1.4 0 1 0 2.8 0a1.4 1.4 0 1 0 -2.8 0zM140.2 63.9a1.4 1.4 0 1 0 2.8 0a1.4 1.4 0 1 0 -2.8 0zM137.8 73.3a1.4 1.4 0 1 0 2.8 0a1.4 1.4 0 1 0 -2.8 0zM138.4 59.0a1.4 1.4 0 1 0 2.8 0a1.4 1.4 0 1 0 -2.8 0zM141.0 66.3a1.4 1.4 0 1 0 2.8 0a1.4 1.4 0 1 0 -2.8 0zM109.6 82.3a1.4 1.4 0 1 0 2.8 0a1.4 1.4 0 1 0 -2.8 0zM126.9 72.4a1.4 1.4 0 1 0 2.8 0a1.4 1.4 0 1 0 -2.8 0zM98.6 76.4a1.4 1.4 0 1 0 2.8 0a1.4 1.4 0 1 0 -2.8 0zM96.8 83.5a1.4 1.4 0 1 0 2.8 0a1.4 1.4 0 1 0 -2.8 0zM116.6 81.9a1.4 1.4 0 1 0 2.8 0a1.4 1.4 0 1 0 -2.8 0zM128.5 70.4a1.4 1.4 0 1 0 2.8 0a1.4 1.4 0 1 0 -2.8 0zM143.9 69.2a1.4 1.4 0 1 0 2.8 0a1.4 1.4 0 1 0 -2.8 0zM123.0 69.2a1.4 1.4 0 1 0 2.8 0a1.4 1.4 0 1 0 -2.8 0zM149.6 49.2a1.4 1.4 0 1 0 2.8 0a1.4 1.4 0 1 0 -2.8 0zM151.3 61.8a1.4 1.4 0 1 0 2.8 0a1.4 1.4 0 1 0 -2.8 0zM158.0 54.4a1.4 1.4 0 1 0 2.8 0a1.4 1.4 0 1 0 -2.8 0zM149.5 76.0a1.4 1.4 0 1 0 2.8 0a1.4 1.4 0 1 0 -2.8 0zM154.4 60.4a1.4 1.4 0 1 0 2.8 0a1.4 1.4 0 1 0 -2.8 0zM151.4 51.4a1.4 1.4 0 1 0 2.8 0a1.4 1.4 0 1 0 -2.8 0zM150.2 53.8a1.4 1.4 0 1 0 2.8 0a1.4 1.4 0 1 0 -2.8 0zM150.6 56.9a1.4 1.4 0 1 0 2.8 0a1.4 1.4 0 1 0 -2.8 0zM150.0 52.1a1.4 1.4 0 1 0 2.8 0a1.4 1.4 0 1 0 -2.8 0zM154.0 50.7a1.4 1.4 0 1 0 2.8 0a1.4 1.4 0 1 0 -2.8 0zM151.2 61.0a1.4 1.4 0 1 0 2.8 0a1.4 1.4 0 1 0 -2.8 0zM151.4 57.6a1.4 1.4 0 1 0 2.8 0a1.4 1.4 0 1 0 -2.8 0zM151.2 54.7a1.4 1.4 0 1 0 2.8 0a1.4 1.4 0 1 0 -2.8 0zM153.3 56.0a1.4 1.4 0 1 0 2.8 0a1.4 1.4 0 1 0 -2.8 0zM153.0 58.4a1.4 1.4 0 1 0 2.8 0a1.4 1.4 0 1 0 -2.8 0zM154.8 66.8a1.4 1.4 0 1 0 2.8 0a1.4 1.4 0 1 0 -2.8 0zM155.9 57.2a1.4 1.4 0 1 0 2.8 0a1.4 1.4 0 1 0 -2.8 0zM150.2 65.1a1.4 1.4 0 1 0 2.8 0a1.4 1.4 0 1 0 -2.8 0zM154.0 68.0a1.4 1.4 0 1 0 2.8 0a1.4 1.4 0 1 0 -2.8 0zM158.3 55.1a1.4 1.4 0 1 0 2.8 0a1.4 1.4 0 1 0 -2.8 0zM155.0 53.0a1.4 1.4 0 1 0 2.8 0a1.4 1.4 0 1 0 -2.8 0zM155.5 66.6a1.4 1.4 0 1 0 2.8 0a1.4 1.4 0 1 0 -2.8 0zM154.0 59.7a1.4 1.4 0 1 0 2.8 0a1.4 1.4 0 1 0 -2.8 0zM149.8 66.0a1.4 1.4 0 1 0 2.8 0a1.4 1.4 0 1 0 -2.8 0zM156.3 62.8a1.4 1.4 0 1 0 2.8 0a1.4 1.4 0 1 0 -2.8 0zM158.8 60.6a1.4 1.4 0 1 0 2.8 0a1.4 1.4 0 1 0 -2.8 0zM154.8 61.6a1.4 1.4 0 1 0 2.8 0a1.4 1.4 0 1 0 -2.8 0zM150.9 67.4a1.4 1.4 0 1 0 2.8 0a1.4 1.4 0 1 0 -2.8 0zM151.7 64.2a1.4 1.4 0 1 0 2.8 0a1.4 1.4 0 1 0 -2.8 0zM152.6 63.9a1.4 1.4 0 1 0 2.8 0a1.4 1.4 0 1 0 -2.8 0zM148.1 75.8a1.4 1.4 0 1 0 2.8 0a1.4 1.4 0 1 0 -2.8 0zM148.3 74.1a1.4 1.4 0 1 0 2.8 0a1.4 1.4 0 1 0 -2.8 0zM152.8 59.1a1.4 1.4 0 1 0 2.8 0a1.4 1.4 0 1 0 -2.8 0zM152.9 54.8a1.4 1.4 0 1 0 2.8 0a1.4 1.4 0 1 0 -2.8 0zM148.6 77.4a1.4 1.4 0 1 0 2.8 0a1.4 1.4 0 1 0 -2.8 0zM150.6 55.6a1.4 1.4 0 1 0 2.8 0a1.4 1.4 0 1 0 -2.8 0zM155.4 65.5a1.4 1.4 0 1 0 2.8 0a1.4 1.4 0 1 0 -2.8 0zM157.1 55.0a1.4 1.4 0 1 0 2.8 0a1.4 1.4 0 1 0 -2.8 0zM153.8 60.2a1.4 1.4 0 1 0 2.8 0a1.4 1.4 0 1 0 -2.8 0zM151.5 72.8a1.4 1.4 0 1 0 2.8 0a1.4 1.4 0 1 0 -2.8 0zM83.6 88.3a1.4 1.4 0 1 0 2.8 0a1.4 1.4 0 1 0 -2.8 0zM80.8 101.5a1.4 1.4 0 1 0 2.8 0a1.4 1.4 0 1 0 -2.8 0zM78.2 96.9a1.4 1.4 0 1 0 2.8 0a1.4 1.4 0 1 0 -2.8 0zM77.0 85.2a1.4 1.4 0 1 0 2.8 0a1.4 1.4 0 1 0 -2.8 0zM77.6 85.5a1.4 1.4 0 1 0 2.8 0a1.4 1.4 0 1 0 -2.8 0zM83.0 89.5a1.4 1.4 0 1 0 2.8 0a1.4 1.4 0 1 0 -2.8 0zM82.0 90.0a1.4 1.4 0 1 0 2.8 0a1.4 1.4 0 1 0 -2.8 0zM82.0 84.5a1.4 1.4 0 1 0 2.8 0a1.4 1.4 0 1 0 -2.8 0zM83.6 91.8a1.4 1.4 0 1 0 2.8 0a1.4 1.4 0 1 0 -2.8 0zM90.8 99.7a1.4 1.4 0 1 0 2.8 0a1.4 1.4 0 1 0 -2.8 0zM73.7 91.5a1.4 1.4 0 1 0 2.8 0a1.4 1.4 0 1 0 -2.8 0zM76.6 97.9a1.4 1.4 0 1 0 2.8 0a1.4 1.4 0 1 0 -2.8 0zM74.5 97.0a1.4 1.4 0 1 0 2.8 0a1.4 1.4 0 1 0 -2.8 0zM86.0 89.8a1.4 1.4 0 1 0 2.8 0a1.4 1.4 0 1 0 -2.8 0zM93.3 93.6a1.4 1.4 0 1 0 2.8 0a1.4 1.4 0 1 0 -2.8 0zM89.7 91.0a1.4 1.4 0 1 0 2.8 0a1.4 1.4 0 1 0 -2.8 0zM78.9 86.5a1.4 1.4 0 1 0 2.8 0a1.4 1.4 0 1 0 -2.8 0zM96.1 97.1a1.4 1.4 0 1 0 2.8 0a1.4 1.4 0 1 0 -2.8 0zM94.6 93.0a1.4 1.4 0 1 0 2.8 0a1.4 1.4 0 1 0 -2.8 0zM86.1 86.2a1.4 1.4 0 1 0 2.8 0a1.4 1.4 0 1 0 -2.8 0zM79.4 84.9a1.4 1.4 0 1 0 2.8 0a1.4 1.4 0 1 0 -2.8 0zM77.0 99.7a1.4 1.4 0 1 0 2.8 0a1.4 1.4 0 1 0 -2.8 0zM76.9 88.3a1.4 1.4 0 1 0 2.8 0a1.4 1.4 0 1 0 -2.8 0zM85.8 89.5a1.4 1.4 0 1 0 2.8 0a1.4 1.4 0 1 0 -2.8 0zM79.4 84.7a1.4 1.4 0 1 0 2.8 0a1.4 1.4 0 1 0 -2.8 0zM81.0 93.4a1.4 1.4 0 1 0 2.8 0a1.4 1.4 0 1 0 -2.8 0zM73.3 89.7a1.4 1.4 0 1 0 2.8 0a1.4 1.4 0 1 0 -2.8 0zM89.5 94.0a1.4 1.4 0 1 0 2.8 0a1.4 1.4 0 1 0 -2.8 0zM80.8 88.0a1.4 1.4 0 1 0 2.8 0a1.4 1.4 0 1 0 -2.8 0zM76.6 93.4a1.4 1.4 0 1 0 2.8 0a1.4 1.4 0 1 0 -2.8 0zM89.6 100.1a1.4 1.4 0 1 0 2.8 0a1.4 1.4 0 1 0 -2.8 0zM75.5 90.4a1.4 1.4 0 1 0 2.8 0a1.4 1.4 0 1 0 -2.8 0zM79.1 92.4a1.4 1.4 0 1 0 2.8 0a1.4 1.4 0 1 0 -2.8 0zM77.9 96.1a1.4 1.4 0 1 0 2.8 0a1.4 1.4 0 1 0 -2.8 0zM75.2 93.4a1.4 1.4 0 1 0 2.8 0a1.4 1.4 0 1 0 -2.8 0zM81.1 99.2a1.4 1.4 0 1 0 2.8 0a1.4 1.4 0 1 0 -2.8 0zM96.2 96.2a1.4 1.4 0 1 0 2.8 0a1.4 1.4 0 1 0 -2.8 0zM88.0 89.4a1.4 1.4 0 1 0 2.8 0a1.4 1.4 0 1 0 -2.8 0zM95.1 98.7a1.4 1.4 0 1 0 2.8 0a1.4 1.4 0 1 0 -2.8 0zM77.9 88.9a1.4 1.4 0 1 0 2.8 0a1.4 1.4 0 1 0 -2.8 0zM83.1 93.7a1.4 1.4 0 1 0 2.8 0a1.4 1.4 0 1 0 -2.8 0zM74.9 92.2a1.4 1.4 0 1 0 2.8 0a1.4 1.4 0 1 0 -2.8 0zM73.6 94.7a1.4 1.4 0 1 0 2.8 0a1.4 1.4 0 1 0 -2.8 0zM89.1 99.5a1.4 1.4 0 1 0 2.8 0a1.4 1.4 0 1 0 -2.8 0zM83.9 94.5a1.4 1.4 0 1 0 2.8 0a1.4 1.4 0 1 0 -2.8 0zM95.0 91.3a1.4 1.4 0 1 0 2.8 0a1.4 1.4 0 1 0 -2.8 0zM85.2 100.4a1.4 1.4 0 1 0 2.8 0a1.4 1.4 0 1 0 -2.8 0zM96.6 94.3a1.4 1.4 0 1 0 2.8 0a1.4 1.4 0 1 0 -2.8 0zM95.3 95.5a1.4 1.4 0 1 0 2.8 0a1.4 1.4 0 1 0 -2.8 0zM82.7 101.1a1.4 1.4 0 1 0 2.8 0a1.4 1.4 0 1 0 -2.8 0zM87.9 98.4a1.4 1.4 0 1 0 2.8 0a1.4 1.4 0 1 0 -2.8 0zM97.3 92.7a1.4 1.4 0 1 0 2.8 0a1.4 1.4 0 1 0 -2.8 0zM73.9 92.6a1.4 1.4 0 1 0 2.8 0a1.4 1.4 0 1 0 -2.8 0zM81.0 96.9a1.4 1.4 0 1 0 2.8 0a1.4 1.4 0 1 0 -2.8 0zM98.4 94.5a1.4 1.4 0 1 0 2.8 0a1.4 1.4 0 1 0 -2.8 0zM68.8 95.2a1.4 1.4 0 1 0 2.8 0a1.4 1.4 0 1 0 -2.8 0zM69.4 97.1a1.4 1.4 0 1 0 2.8 0a1.4 1.4 0 1 0 -2.8 0zM69.0 99.4a1.4 1.4 0 1 0 2.8 0a1.4 1.4 0 1 0 -2.8 0zM69.4 101.7a1.4 1.4 0 1 0 2.8 0a1.4 1.4 0 1 0 -2.8 0zM68.4 103.5a1.4 1.4 0 1 0 2.8 0a1.4 1.4 0 1 0 -2.8 0zM67.9 105.8a1.4 1.4 0 1 0 2.8 0a1.4 1.4 0 1 0 -2.8 0zM70.8 104.6a1.4 1.4 0 1 0 2.8 0a1.4 1.4 0 1 0 -2.8 0zM74.8 96.0a1.4 1.4 0 1 0 2.8 0a1.4 1.4 0 1 0 -2.8 0zM75.4 98.8a1.4 1.4 0 1 0 2.8 0a1.4 1.4 0 1 0 -2.8 0zM77.6 96.5a1.4 1.4 0 1 0 2.8 0a1.4 1.4 0 1 0 -2.8 0zM78.8 94.2a1.4 1.4 0 1 0 2.8 0a1.4 1.4 0 1 0 -2.8 0zM73.6 90.2a1.4 1.4 0 1 0 2.8 0a1.4 1.4 0 1 0 -2.8 0zM76.5 89.6a1.4 1.4 0 1 0 2.8 0a1.4 1.4 0 1 0 -2.8 0zM82.3 98.8a1.4 1.4 0 1 0 2.8 0a1.4 1.4 0 1 0 -2.8 0zM85.8 100.0a1.4 1.4 0 1 0 2.8 0a1.4 1.4 0 1 0 -2.8 0zM88.1 101.2a1.4 1.4 0 1 0 2.8 0a1.4 1.4 0 1 0 -2.8 0zM89.2 96.5a1.4 1.4 0 1 0 2.8 0a1.4 1.4 0 1 0 -2.8 0zM92.6 102.3a1.4 1.4 0 1 0 2.8 0a1.4 1.4 0 1 0 -2.8 0zM100.2 103.2a1.4 1.4 0 1 0 2.8 0a1.4 1.4 0 1 0 -2.8 0zM92.6 97.7a1.4 1.4 0 1 0 2.8 0a1.4 1.4 0 1 0 -2.8 0zM111.1 97.7a1.4 1.4 0 1 0 2.8 0a1.4 1.4 0 1 0 -2.8 0zM105.4 91.9a1.4 1.4 0 1 0 2.8 0a1.4 1.4 0 1 0 -2.8 0zM112.3 93.7a1.4 1.4 0 1 0 2.8 0a1.4 1.4 0 1 0 -2.8 0zM62.4 73.2a1.4 1.4 0 1 0 2.8 0a1.4 1.4 0 1 0 -2.8 0zM70.5 69.1a1.4 1.4 0 1 0 2.8 0a1.4 1.4 0 1 0 -2.8 0zM81.4 71.2a1.4 1.4 0 1 0 2.8 0a1.4 1.4 0 1 0 -2.8 0zM86.3 71.5a1.4 1.4 0 1 0 2.8 0a1.4 1.4 0 1 0 -2.8 0zM89.0 65.2a1.4 1.4 0 1 0 2.8 0a1.4 1.4 0 1 0 -2.8 0zM91.8 63.1a1.4 1.4 0 1 0 2.8 0a1.4 1.4 0 1 0 -2.8 0zM96.1 62.2a1.4 1.4 0 1 0 2.8 0a1.4 1.4 0 1 0 -2.8 0zM97.9 55.6a1.4 1.4 0 1 0 2.8 0a1.4 1.4 0 1 0 -2.8 0zM76.5 76.3a1.4 1.4 0 1 0 2.8 0a1.4 1.4 0 1 0 -2.8 0zM73.6 80.4a1.4 1.4 0 1 0 2.8 0a1.4 1.4 0 1 0 -2.8 0zM77.6 82.1a1.4 1.4 0 1 0 2.8 0a1.4 1.4 0 1 0 -2.8 0zM93.8 66.5a1.4 1.4 0 1 0 2.8 0a1.4 1.4 0 1 0 -2.8 0zM90.4 70.0a1.4 1.4 0 1 0 2.8 0a1.4 1.4 0 1 0 -2.8 0zM117.8 50.6a1.4 1.4 0 1 0 2.8 0a1.4 1.4 0 1 0 -2.8 0zM123.8 51.0a1.4 1.4 0 1 0 2.8 0a1.4 1.4 0 1 0 -2.8 0zM134.8 46.7a1.4 1.4 0 1 0 2.8 0a1.4 1.4 0 1 0 -2.8 0zM141.1 44.0a1.4 1.4 0 1 0 2.8 0a1.4 1.4 0 1 0 -2.8 0zM145.5 44.6a1.4 1.4 0 1 0 2.8 0a1.4 1.4 0 1 0 -2.8 0zM147.5 43.7a1.4 1.4 0 1 0 2.8 0a1.4 1.4 0 1 0 -2.8 0zM163.6 42.5a1.4 1.4 0 1 0 2.8 0a1.4 1.4 0 1 0 -2.8 0zM168.6 47.8a1.4 1.4 0 1 0 2.8 0a1.4 1.4 0 1 0 -2.8 0zM153.3 47.5a1.4 1.4 0 1 0 2.8 0a1.4 1.4 0 1 0 -2.8 0zM177.5 46.3a1.4 1.4 0 1 0 2.8 0a1.4 1.4 0 1 0 -2.8 0zM180.4 48.7a1.4 1.4 0 1 0 2.8 0a1.4 1.4 0 1 0 -2.8 0zM177.5 52.1a1.4 1.4 0 1 0 2.8 0a1.4 1.4 0 1 0 -2.8 0zM197.1 48.1a1.4 1.4 0 1 0 2.8 0a1.4 1.4 0 1 0 -2.8 0zM191.9 52.7a1.4 1.4 0 1 0 2.8 0a1.4 1.4 0 1 0 -2.8 0zM198.6 51.5a1.4 1.4 0 1 0 2.8 0a1.4 1.4 0 1 0 -2.8 0zM208.1 52.3a1.4 1.4 0 1 0 2.8 0a1.4 1.4 0 1 0 -2.8 0zM155.0 70.0a1.4 1.4 0 1 0 2.8 0a1.4 1.4 0 1 0 -2.8 0zM156.1 73.5a1.4 1.4 0 1 0 2.8 0a1.4 1.4 0 1 0 -2.8 0zM148.1 77.0a1.4 1.4 0 1 0 2.8 0a1.4 1.4 0 1 0 -2.8 0zM148.1 81.0a1.4 1.4 0 1 0 2.8 0a1.4 1.4 0 1 0 -2.8 0zM155.0 62.0a1.4 1.4 0 1 0 2.8 0a1.4 1.4 0 1 0 -2.8 0zM159.6 60.8a1.4 1.4 0 1 0 2.8 0a1.4 1.4 0 1 0 -2.8 0zM161.9 65.4a1.4 1.4 0 1 0 2.8 0a1.4 1.4 0 1 0 -2.8 0zM165.4 61.9a1.4 1.4 0 1 0 2.8 0a1.4 1.4 0 1 0 -2.8 0zM168.8 67.7a1.4 1.4 0 1 0 2.8 0a1.4 1.4 0 1 0 -2.8 0zM171.1 72.3a1.4 1.4 0 1 0 2.8 0a1.4 1.4 0 1 0 -2.8 0zM164.2 75.2a1.4 1.4 0 1 0 2.8 0a1.4 1.4 0 1 0 -2.8 0zM165.9 79.2a1.4 1.4 0 1 0 2.8 0a1.4 1.4 0 1 0 -2.8 0zM171.1 81.0a1.4 1.4 0 1 0 2.8 0a1.4 1.4 0 1 0 -2.8 0zM160.6 59.0a1.4 1.4 0 1 0 2.8 0a1.4 1.4 0 1 0 -2.8 0zM172.3 58.5a1.4 1.4 0 1 0 2.8 0a1.4 1.4 0 1 0 -2.8 0zM158.4 56.2a1.4 1.4 0 1 0 2.8 0a1.4 1.4 0 1 0 -2.8 0zM163.1 55.0a1.4 1.4 0 1 0 2.8 0a1.4 1.4 0 1 0 -2.8 0zM175.8 56.2a1.4 1.4 0 1 0 2.8 0a1.4 1.4 0 1 0 -2.8 0zM176.3 58.5a1.4 1.4 0 1 0 2.8 0a1.4 1.4 0 1 0 -2.8 0zM183.3 60.4a1.4 1.4 0 1 0 2.8 0a1.4 1.4 0 1 0 -2.8 0zM188.4 59.4a1.4 1.4 0 1 0 2.8 0a1.4 1.4 0 1 0 -2.8 0zM193.6 55.6a1.4 1.4 0 1 0 2.8 0a1.4 1.4 0 1 0 -2.8 0zM194.8 59.0a1.4 1.4 0 1 0 2.8 0a1.4 1.4 0 1 0 -2.8 0zM189.0 64.2a1.4 1.4 0 1 0 2.8 0a1.4 1.4 0 1 0 -2.8 0zM186.1 66.3a1.4 1.4 0 1 0 2.8 0a1.4 1.4 0 1 0 -2.8 0zM182.1 67.1a1.4 1.4 0 1 0 2.8 0a1.4 1.4 0 1 0 -2.8 0zM177.5 68.3a1.4 1.4 0 1 0 2.8 0a1.4 1.4 0 1 0 -2.8 0zM192.5 67.7a1.4 1.4 0 1 0 2.8 0a1.4 1.4 0 1 0 -2.8 0zM195.9 66.8a1.4 1.4 0 1 0 2.8 0a1.4 1.4 0 1 0 -2.8 0zM180.4 79.8a1.4 1.4 0 1 0 2.8 0a1.4 1.4 0 1 0 -2.8 0zM175.2 62.5a1.4 1.4 0 1 0 2.8 0a1.4 1.4 0 1 0 -2.8 0zM118.1 91.5a1.4 1.4 0 1 0 2.8 0a1.4 1.4 0 1 0 -2.8 0zM126.1 88.5a1.4 1.4 0 1 0 2.8 0a1.4 1.4 0 1 0 -2.8 0zM134.2 87.3a1.4 1.4 0 1 0 2.8 0a1.4 1.4 0 1 0 -2.8 0zM144.6 86.8a1.4 1.4 0 1 0 2.8 0a1.4 1.4 0 1 0 -2.8 0zM167.7 91.9a1.4 1.4 0 1 0 2.8 0a1.4 1.4 0 1 0 -2.8 0zM144.1 98.8a1.4 1.4 0 1 0 2.8 0a1.4 1.4 0 1 0 -2.8 0zM168.1 100.5a1.4 1.4 0 1 0 2.8 0a1.4 1.4 0 1 0 -2.8 0zM119.7 105.3a1.4 1.4 0 1 0 2.8 0a1.4 1.4 0 1 0 -2.8 0zM97.9 55.3a1.4 1.4 0 1 0 2.8 0a1.4 1.4 0 1 0 -2.8 0zM118.1 51.0a1.4 1.4 0 1 0 2.8 0a1.4 1.4 0 1 0 -2.8 0zM124.4 51.0a1.4 1.4 0 1 0 2.8 0a1.4 1.4 0 1 0 -2.8 0zM89.2 64.8a1.4 1.4 0 1 0 2.8 0a1.4 1.4 0 1 0 -2.8 0zM92.1 63.1a1.4 1.4 0 1 0 2.8 0a1.4 1.4 0 1 0 -2.8 0zM96.1 61.9a1.4 1.4 0 1 0 2.8 0a1.4 1.4 0 1 0 -2.8 0zM96.1 64.8a1.4 1.4 0 1 0 2.8 0a1.4 1.4 0 1 0 -2.8 0zM105.9 59.0a1.4 1.4 0 1 0 2.8 0a1.4 1.4 0 1 0 -2.8 0zM111.5 97.7a1.4 1.4 0 1 0 2.8 0a1.4 1.4 0 1 0 -2.8 0zM118.4 91.9a1.4 1.4 0 1 0 2.8 0a1.4 1.4 0 1 0 -2.8 0zM127.1 89.0a1.4 1.4 0 1 0 2.8 0a1.4 1.4 0 1 0 -2.8 0zM134.6 87.3a1.4 1.4 0 1 0 2.8 0a1.4 1.4 0 1 0 -2.8 0zM113.2 93.7a1.4 1.4 0 1 0 2.8 0a1.4 1.4 0 1 0 -2.8 0zM163.5 42.4a1.4 1.4 0 1 0 2.8 0a1.4 1.4 0 1 0 -2.8 0zM177.4 46.5a1.4 1.4 0 1 0 2.8 0a1.4 1.4 0 1 0 -2.8 0zM180.1 48.5a1.4 1.4 0 1 0 2.8 0a1.4 1.4 0 1 0 -2.8 0zM177.8 51.2a1.4 1.4 0 1 0 2.8 0a1.4 1.4 0 1 0 -2.8 0zM177.1 54.2a1.4 1.4 0 1 0 2.8 0a1.4 1.4 0 1 0 -2.8 0zM192.4 52.7a1.4 1.4 0 1 0 2.8 0a1.4 1.4 0 1 0 -2.8 0zM197.8 51.2a1.4 1.4 0 1 0 2.8 0a1.4 1.4 0 1 0 -2.8 0zM207.8 52.2a1.4 1.4 0 1 0 2.8 0a1.4 1.4 0 1 0 -2.8 0zM183.2 60.4a1.4 1.4 0 1 0 2.8 0a1.4 1.4 0 1 0 -2.8 0zM188.6 59.3a1.4 1.4 0 1 0 2.8 0a1.4 1.4 0 1 0 -2.8 0zM193.2 55.0a1.4 1.4 0 1 0 2.8 0a1.4 1.4 0 1 0 -2.8 0zM194.4 58.8a1.4 1.4 0 1 0 2.8 0a1.4 1.4 0 1 0 -2.8 0zM182.4 67.0a1.4 1.4 0 1 0 2.8 0a1.4 1.4 0 1 0 -2.8 0zM186.3 66.5a1.4 1.4 0 1 0 2.8 0a1.4 1.4 0 1 0 -2.8 0zM189.4 64.5a1.4 1.4 0 1 0 2.8 0a1.4 1.4 0 1 0 -2.8 0zM193.2 67.3a1.4 1.4 0 1 0 2.8 0a1.4 1.4 0 1 0 -2.8 0zM196.3 66.8a1.4 1.4 0 1 0 2.8 0a1.4 1.4 0 1 0 -2.8 0zM177.8 68.1a1.4 1.4 0 1 0 2.8 0a1.4 1.4 0 1 0 -2.8 0zM153.0 47.1a1.4 1.4 0 1 0 2.8 0a1.4 1.4 0 1 0 -2.8 0zM168.6 47.9a1.4 1.4 0 1 0 2.8 0a1.4 1.4 0 1 0 -2.8 0zM177.3 46.7a1.4 1.4 0 1 0 2.8 0a1.4 1.4 0 1 0 -2.8 0zM178.4 50.8a1.4 1.4 0 1 0 2.8 0a1.4 1.4 0 1 0 -2.8 0zM181.9 53.1a1.4 1.4 0 1 0 2.8 0a1.4 1.4 0 1 0 -2.8 0zM159.9 53.7a1.4 1.4 0 1 0 2.8 0a1.4 1.4 0 1 0 -2.8 0zM162.3 54.2a1.4 1.4 0 1 0 2.8 0a1.4 1.4 0 1 0 -2.8 0zM166.3 56.0a1.4 1.4 0 1 0 2.8 0a1.4 1.4 0 1 0 -2.8 0zM172.1 55.4a1.4 1.4 0 1 0 2.8 0a1.4 1.4 0 1 0 -2.8 0zM176.7 58.8a1.4 1.4 0 1 0 2.8 0a1.4 1.4 0 1 0 -2.8 0zM172.6 59.4a1.4 1.4 0 1 0 2.8 0a1.4 1.4 0 1 0 -2.8 0zM158.2 59.4a1.4 1.4 0 1 0 2.8 0a1.4 1.4 0 1 0 -2.8 0zM160.5 62.3a1.4 1.4 0 1 0 2.8 0a1.4 1.4 0 1 0 -2.8 0zM162.8 60.0a1.4 1.4 0 1 0 2.8 0a1.4 1.4 0 1 0 -2.8 0zM156.5 62.9a1.4 1.4 0 1 0 2.8 0a1.4 1.4 0 1 0 -2.8 0zM152.4 62.3a1.4 1.4 0 1 0 2.8 0a1.4 1.4 0 1 0 -2.8 0zM169.8 62.9a1.4 1.4 0 1 0 2.8 0a1.4 1.4 0 1 0 -2.8 0zM171.5 64.0a1.4 1.4 0 1 0 2.8 0a1.4 1.4 0 1 0 -2.8 0zM174.4 62.3a1.4 1.4 0 1 0 2.8 0a1.4 1.4 0 1 0 -2.8 0zM162.8 66.9a1.4 1.4 0 1 0 2.8 0a1.4 1.4 0 1 0 -2.8 0zM168.0 68.1a1.4 1.4 0 1 0 2.8 0a1.4 1.4 0 1 0 -2.8 0zM169.2 69.8a1.4 1.4 0 1 0 2.8 0a1.4 1.4 0 1 0 -2.8 0zM155.9 69.2a1.4 1.4 0 1 0 2.8 0a1.4 1.4 0 1 0 -2.8 0zM155.3 72.7a1.4 1.4 0 1 0 2.8 0a1.4 1.4 0 1 0 -2.8 0zM177.8 68.7a1.4 1.4 0 1 0 2.8 0a1.4 1.4 0 1 0 -2.8 0zM173.2 69.8a1.4 1.4 0 1 0 2.8 0a1.4 1.4 0 1 0 -2.8 0zM181.9 66.3a1.4 1.4 0 1 0 2.8 0a1.4 1.4 0 1 0 -2.8 0zM170.9 72.7a1.4 1.4 0 1 0 2.8 0a1.4 1.4 0 1 0 -2.8 0zM163.4 75.6a1.4 1.4 0 1 0 2.8 0a1.4 1.4 0 1 0 -2.8 0zM166.3 78.5a1.4 1.4 0 1 0 2.8 0a1.4 1.4 0 1 0 -2.8 0zM170.9 81.3a1.4 1.4 0 1 0 2.8 0a1.4 1.4 0 1 0 -2.8 0zM180.1 79.6a1.4 1.4 0 1 0 2.8 0a1.4 1.4 0 1 0 -2.8 0zM149.0 79.6a1.4 1.4 0 1 0 2.8 0a1.4 1.4 0 1 0 -2.8 0zM147.8 77.3a1.4 1.4 0 1 0 2.8 0a1.4 1.4 0 1 0 -2.8 0zM142.1 73.8a1.4 1.4 0 1 0 2.8 0a1.4 1.4 0 1 0 -2.8 0zM150.1 59.4a1.4 1.4 0 1 0 2.8 0a1.4 1.4 0 1 0 -2.8 0zM151.3 56.5a1.4 1.4 0 1 0 2.8 0a1.4 1.4 0 1 0 -2.8 0zM154.8 55.4a1.4 1.4 0 1 0 2.8 0a1.4 1.4 0 1 0 -2.8 0zM155.9 53.1a1.4 1.4 0 1 0 2.8 0a1.4 1.4 0 1 0 -2.8 0zM158.8 56.5a1.4 1.4 0 1 0 2.8 0a1.4 1.4 0 1 0 -2.8 0zM164.6 57.7a1.4 1.4 0 1 0 2.8 0a1.4 1.4 0 1 0 -2.8 0zM167.4 57.7a1.4 1.4 0 1 0 2.8 0a1.4 1.4 0 1 0 -2.8 0zM170.9 54.2a1.4 1.4 0 1 0 2.8 0a1.4 1.4 0 1 0 -2.8 0zM175.5 54.2a1.4 1.4 0 1 0 2.8 0a1.4 1.4 0 1 0 -2.8 0zM153.6 66.9a1.4 1.4 0 1 0 2.8 0a1.4 1.4 0 1 0 -2.8 0zM157.1 65.8a1.4 1.4 0 1 0 2.8 0a1.4 1.4 0 1 0 -2.8 0zM150.1 68.1a1.4 1.4 0 1 0 2.8 0a1.4 1.4 0 1 0 -2.8 0z" fill="#000"/>
<line x1="63.7" y1="90.9" x2="223.9" y2="40" stroke="#000" stroke-width="1.1"/>
<text x="248.20" y="12.40" font-size="15.3" text-anchor="start" font-weight="bold" font-style="normal" fill="#000" >B</text>
<rect x="338.50" y="9.10" width="6.00" height="6.00" fill="#808080" stroke="#4d4d4d" stroke-width="1"/>
<rect x="411.30" y="9.10" width="6.00" height="6.00" fill="#c4c4c4" stroke="#8c8c8c" stroke-width="1"/>
<text transform="translate(348.30,15.60) scale(1,1.07)" font-size="10.5" text-anchor="start" font-weight="bold" font-style="normal" fill="#000" >Screen 1</text>
<text transform="translate(420.20,15.60) scale(1,1.07)" font-size="10.5" text-anchor="start" font-weight="bold" font-style="normal" fill="#000" >Screen 2</text>
<line x1="287.5" y1="28.8" x2="287.5" y2="113.6" stroke="#e0e0e0" stroke-width="1"/>
<line x1="287.5" y1="114.1" x2="520" y2="114.1" stroke="#e0e0e0" stroke-width="1"/>
<line x1="284.5" y1="113.6" x2="287.5" y2="113.6" stroke="#e0e0e0" stroke-width="1"/>
<text transform="translate(280.30,116.62) scale(1,1.07)" font-size="8.4" text-anchor="end" font-weight="bold" font-style="normal" fill="#000" >0</text>
<line x1="284.5" y1="96.6" x2="287.5" y2="96.6" stroke="#e0e0e0" stroke-width="1"/>
<text transform="translate(280.30,99.62) scale(1,1.07)" font-size="8.4" text-anchor="end" font-weight="bold" font-style="normal" fill="#000" >25</text>
<line x1="284.5" y1="79.6" x2="287.5" y2="79.6" stroke="#e0e0e0" stroke-width="1"/>
<text transform="translate(280.30,82.62) scale(1,1.07)" font-size="8.4" text-anchor="end" font-weight="bold" font-style="normal" fill="#000" >50</text>
<line x1="284.5" y1="62.59999999999999" x2="287.5" y2="62.59999999999999" stroke="#e0e0e0" stroke-width="1"/>
<text transform="translate(280.30,65.62) scale(1,1.07)" font-size="8.4" text-anchor="end" font-weight="bold" font-style="normal" fill="#000" >75</text>
<line x1="284.5" y1="45.599999999999994" x2="287.5" y2="45.599999999999994" stroke="#e0e0e0" stroke-width="1"/>
<text transform="translate(280.30,48.62) scale(1,1.07)" font-size="8.4" text-anchor="end" font-weight="bold" font-style="normal" fill="#000" >100</text>
<rect x="312.50" y="48.14" width="33.00" height="65.46" fill="#808080" stroke="#4d4d4d" stroke-width="1"/>
<line x1="328.8" y1="46.6" x2="328.8" y2="48.6" stroke="#000" stroke-width="1.3"/>
<line x1="326.6" y1="46.6" x2="331.0" y2="46.6" stroke="#000" stroke-width="1.3"/>
<line x1="326.6" y1="48.6" x2="331.0" y2="48.6" stroke="#000" stroke-width="1.3"/>
<text transform="translate(329.40,38.46) scale(1,1.07)" font-size="8.5" text-anchor="middle" font-weight="bold" font-style="normal" fill="#000" >97</text>
<rect x="346.50" y="69.90" width="32.60" height="43.70" fill="#c4c4c4" stroke="#8c8c8c" stroke-width="1"/>
<line x1="362.6" y1="66.5" x2="362.6" y2="71.9" stroke="#000" stroke-width="1.3"/>
<line x1="360.40000000000003" y1="66.5" x2="364.8" y2="66.5" stroke="#000" stroke-width="1.3"/>
<line x1="360.40000000000003" y1="71.9" x2="364.8" y2="71.9" stroke="#000" stroke-width="1.3"/>
<text transform="translate(366.50,53.86) scale(1,1.07)" font-size="8.5" text-anchor="middle" font-weight="bold" font-style="normal" fill="#000" >65</text>
<rect x="429.30" y="48.82" width="32.80" height="64.78" fill="#808080" stroke="#4d4d4d" stroke-width="1"/>
<line x1="445.4" y1="47.3" x2="445.4" y2="49.3" stroke="#000" stroke-width="1.3"/>
<line x1="443.2" y1="47.3" x2="447.59999999999997" y2="47.3" stroke="#000" stroke-width="1.3"/>
<line x1="443.2" y1="49.3" x2="447.59999999999997" y2="49.3" stroke="#000" stroke-width="1.3"/>
<text transform="translate(447.10,37.06) scale(1,1.07)" font-size="8.5" text-anchor="middle" font-weight="bold" font-style="normal" fill="#000" >96</text>
<rect x="463.10" y="60.38" width="31.70" height="53.22" fill="#c4c4c4" stroke="#8c8c8c" stroke-width="1"/>
<line x1="478.9" y1="56.5" x2="478.9" y2="63.4" stroke="#000" stroke-width="1.3"/>
<line x1="476.7" y1="56.5" x2="481.09999999999997" y2="56.5" stroke="#000" stroke-width="1.3"/>
<line x1="476.7" y1="63.4" x2="481.09999999999997" y2="63.4" stroke="#000" stroke-width="1.3"/>
<text transform="translate(481.80,50.16) scale(1,1.07)" font-size="8.5" text-anchor="middle" font-weight="bold" font-style="normal" fill="#000" >79</text>
<line x1="403.8" y1="113.6" x2="403.8" y2="117.1" stroke="#e0e0e0" stroke-width="1"/>
<text transform="translate(346.00,131.40) scale(1,1.07)" font-size="8.6" text-anchor="middle" font-weight="bold" font-style="normal" fill="#000" >TF-1</text>
<text transform="translate(462.30,131.40) scale(1,1.07)" font-size="8.6" text-anchor="middle" font-weight="bold" font-style="normal" fill="#000" >THP-1</text>
<text transform="translate(259.4,71.1) rotate(-90)" font-size="8.9" text-anchor="middle" font-weight="bold">% Transfection</text>
<text x="0.80" y="183.10" font-size="15.3" text-anchor="start" font-weight="bold" font-style="normal" fill="#000" >C</text>
<rect x="89.20" y="175.60" width="5.50" height="5.50" fill="#808080" stroke="#4d4d4d" stroke-width="1"/>
<rect x="167.90" y="175.60" width="5.50" height="5.50" fill="#c4c4c4" stroke="#8c8c8c" stroke-width="1"/>
<text transform="translate(97.90,182.60) scale(1,1.07)" font-size="9.9" text-anchor="start" font-weight="bold" font-style="normal" fill="#000" >Screen 1</text>
<text transform="translate(176.60,182.60) scale(1,1.07)" font-size="9.9" text-anchor="start" font-weight="bold" font-style="normal" fill="#000" >Screen 2</text>
<line x1="47" y1="195.5" x2="47" y2="285.5" stroke="#e0e0e0" stroke-width="1"/>
<line x1="47" y1="286.0" x2="240" y2="286.0" stroke="#e0e0e0" stroke-width="1"/>
<line x1="44" y1="285.5" x2="47" y2="285.5" stroke="#e0e0e0" stroke-width="1"/>
<text transform="translate(39.50,289.48) scale(1,1.07)" font-size="9.4" text-anchor="end" font-weight="bold" font-style="normal" fill="#000" >0</text>
<line x1="44" y1="267.5" x2="47" y2="267.5" stroke="#e0e0e0" stroke-width="1"/>
<text transform="translate(39.50,271.48) scale(1,1.07)" font-size="9.4" text-anchor="end" font-weight="bold" font-style="normal" fill="#000" >25</text>
<line x1="44" y1="249.5" x2="47" y2="249.5" stroke="#e0e0e0" stroke-width="1"/>
<text transform="translate(39.50,253.48) scale(1,1.07)" font-size="9.4" text-anchor="end" font-weight="bold" font-style="normal" fill="#000" >50</text>
<line x1="44" y1="231.5" x2="47" y2="231.5" stroke="#e0e0e0" stroke-width="1"/>
<text transform="translate(39.50,235.48) scale(1,1.07)" font-size="9.4" text-anchor="end" font-weight="bold" font-style="normal" fill="#000" >75</text>
<line x1="44" y1="213.5" x2="47" y2="213.5" stroke="#e0e0e0" stroke-width="1"/>
<text transform="translate(39.50,217.48) scale(1,1.07)" font-size="9.4" text-anchor="end" font-weight="bold" font-style="normal" fill="#000" >100</text>
<rect x="69.20" y="239.20" width="28.90" height="46.30" fill="#808080" stroke="#4d4d4d" stroke-width="1"/>
<line x1="83.9" y1="234.6" x2="83.9" y2="242.4" stroke="#000" stroke-width="1.3"/>
<line x1="81.7" y1="234.6" x2="86.10000000000001" y2="234.6" stroke="#000" stroke-width="1.3"/>
<line x1="81.7" y1="242.4" x2="86.10000000000001" y2="242.4" stroke="#000" stroke-width="1.3"/>
<text transform="translate(84.80,226.53) scale(1,1.07)" font-size="9.8" text-anchor="middle" font-weight="bold" font-style="normal" fill="#000" >65</text>
<rect x="99.10" y="263.68" width="28.40" height="21.82" fill="#c4c4c4" stroke="#8c8c8c" stroke-width="1"/>
<line x1="113.4" y1="256.5" x2="113.4" y2="269.8" stroke="#000" stroke-width="1.3"/>
<line x1="111.2" y1="256.5" x2="115.60000000000001" y2="256.5" stroke="#000" stroke-width="1.3"/>
<line x1="111.2" y1="269.8" x2="115.60000000000001" y2="269.8" stroke="#000" stroke-width="1.3"/>
<text transform="translate(112.80,249.13) scale(1,1.07)" font-size="9.8" text-anchor="middle" font-weight="bold" font-style="normal" fill="#000" >31</text>
<rect x="171.70" y="232.72" width="28.30" height="52.78" fill="#808080" stroke="#4d4d4d" stroke-width="1"/>
<line x1="186.3" y1="221.3" x2="186.3" y2="242.8" stroke="#000" stroke-width="1.3"/>
<line x1="184.10000000000002" y1="221.3" x2="188.5" y2="221.3" stroke="#000" stroke-width="1.3"/>
<line x1="184.10000000000002" y1="242.8" x2="188.5" y2="242.8" stroke="#000" stroke-width="1.3"/>
<text transform="translate(186.90,211.23) scale(1,1.07)" font-size="9.8" text-anchor="middle" font-weight="bold" font-style="normal" fill="#000" >74</text>
<rect x="201.00" y="233.44" width="28.70" height="52.06" fill="#c4c4c4" stroke="#8c8c8c" stroke-width="1"/>
<line x1="215.7" y1="225.6" x2="215.7" y2="240.4" stroke="#000" stroke-width="1.3"/>
<line x1="213.5" y1="225.6" x2="217.89999999999998" y2="225.6" stroke="#000" stroke-width="1.3"/>
<line x1="213.5" y1="240.4" x2="217.89999999999998" y2="240.4" stroke="#000" stroke-width="1.3"/>
<text transform="translate(216.60,218.23) scale(1,1.07)" font-size="9.8" text-anchor="middle" font-weight="bold" font-style="normal" fill="#000" >73</text>
<line x1="149.6" y1="285.5" x2="149.6" y2="289.0" stroke="#e0e0e0" stroke-width="1"/>
<text transform="translate(98.00,303.00) scale(1,1.07)" font-size="9.5" text-anchor="middle" font-weight="bold" font-style="normal" fill="#000" >TF-1</text>
<text transform="translate(200.50,303.00) scale(1,1.07)" font-size="9.5" text-anchor="middle" font-weight="bold" font-style="normal" fill="#000" >THP-1</text>
<text transform="translate(16.9,241.5) rotate(-90)" font-size="9.5" text-anchor="middle" font-weight="bold">Relative cell number</text>
<text x="248.00" y="183.20" font-size="15.3" text-anchor="start" font-weight="bold" font-style="normal" fill="#000" >D</text>
<rect x="339.20" y="181.00" width="5.50" height="5.50" fill="#808080" stroke="#4d4d4d" stroke-width="1"/>
<rect x="412.80" y="181.00" width="5.50" height="5.50" fill="#c4c4c4" stroke="#8c8c8c" stroke-width="1"/>
<text transform="translate(347.40,187.20) scale(1,1.07)" font-size="9.9" text-anchor="start" font-weight="bold" font-style="normal" fill="#000" >Screen 1</text>
<text transform="translate(421.30,187.20) scale(1,1.07)" font-size="9.9" text-anchor="start" font-weight="bold" font-style="normal" fill="#000" >Screen 2</text>
<line x1="294.4" y1="209.7" x2="294.4" y2="303.7" stroke="#e0e0e0" stroke-width="1"/>
<line x1="294.4" y1="304.2" x2="517" y2="304.2" stroke="#e0e0e0" stroke-width="1"/>
<line x1="291.4" y1="303.7" x2="294.4" y2="303.7" stroke="#e0e0e0" stroke-width="1"/>
<text transform="translate(286.50,307.23) scale(1,1.07)" font-size="9.8" text-anchor="end" font-weight="bold" font-style="normal" fill="#000" >0</text>
<line x1="291.4" y1="284.9" x2="294.4" y2="284.9" stroke="#e0e0e0" stroke-width="1"/>
<text transform="translate(286.50,288.43) scale(1,1.07)" font-size="9.8" text-anchor="end" font-weight="bold" font-style="normal" fill="#000" >25</text>
<line x1="291.4" y1="266.09999999999997" x2="294.4" y2="266.09999999999997" stroke="#e0e0e0" stroke-width="1"/>
<text transform="translate(286.50,269.63) scale(1,1.07)" font-size="9.8" text-anchor="end" font-weight="bold" font-style="normal" fill="#000" >50</text>
<line x1="291.4" y1="247.29999999999998" x2="294.4" y2="247.29999999999998" stroke="#e0e0e0" stroke-width="1"/>
<text transform="translate(286.50,250.83) scale(1,1.07)" font-size="9.8" text-anchor="end" font-weight="bold" font-style="normal" fill="#000" >75</text>
<line x1="291.4" y1="228.5" x2="294.4" y2="228.5" stroke="#e0e0e0" stroke-width="1"/>
<text transform="translate(286.50,232.03) scale(1,1.07)" font-size="9.8" text-anchor="end" font-weight="bold" font-style="normal" fill="#000" >100</text>
<rect x="305.70" y="232.76" width="15.40" height="70.94" fill="#808080" stroke="#4d4d4d" stroke-width="1"/>
<line x1="313.5" y1="227.5" x2="313.5" y2="237.3" stroke="#000" stroke-width="1.3"/>
<line x1="311.3" y1="227.5" x2="315.7" y2="227.5" stroke="#000" stroke-width="1.3"/>
<line x1="311.3" y1="237.3" x2="315.7" y2="237.3" stroke="#000" stroke-width="1.3"/>
<text transform="translate(313.50,223.42) scale(1,1.08)" font-size="9.5" text-anchor="middle" font-weight="bold" font-style="normal" fill="#000" >95</text>
<rect x="322.10" y="228.25" width="15.40" height="75.45" fill="#c4c4c4" stroke="#8c8c8c" stroke-width="1"/>
<line x1="329.7" y1="219.4" x2="329.7" y2="236.1" stroke="#000" stroke-width="1.3"/>
<line x1="327.5" y1="219.4" x2="331.9" y2="219.4" stroke="#000" stroke-width="1.3"/>
<line x1="327.5" y1="236.1" x2="331.9" y2="236.1" stroke="#000" stroke-width="1.3"/>
<text transform="translate(331.10,216.22) scale(1,1.08)" font-size="9.5" text-anchor="middle" font-weight="bold" font-style="normal" fill="#000" >101</text>
<rect x="361.90" y="235.02" width="15.40" height="68.68" fill="#808080" stroke="#4d4d4d" stroke-width="1"/>
<line x1="369.7" y1="229.5" x2="369.7" y2="240.2" stroke="#000" stroke-width="1.3"/>
<line x1="367.5" y1="229.5" x2="371.9" y2="229.5" stroke="#000" stroke-width="1.3"/>
<line x1="367.5" y1="240.2" x2="371.9" y2="240.2" stroke="#000" stroke-width="1.3"/>
<text transform="translate(370.60,226.32) scale(1,1.08)" font-size="9.5" text-anchor="middle" font-weight="bold" font-style="normal" fill="#000" >92</text>
<rect x="378.30" y="237.27" width="15.40" height="66.43" fill="#c4c4c4" stroke="#8c8c8c" stroke-width="1"/>
<line x1="385.9" y1="217.4" x2="385.9" y2="256.9" stroke="#000" stroke-width="1.3"/>
<line x1="383.7" y1="217.4" x2="388.09999999999997" y2="217.4" stroke="#000" stroke-width="1.3"/>
<line x1="383.7" y1="256.9" x2="388.09999999999997" y2="256.9" stroke="#000" stroke-width="1.3"/>
<text transform="translate(386.50,213.62) scale(1,1.08)" font-size="9.5" text-anchor="middle" font-weight="bold" font-style="normal" fill="#000" >89</text>
<rect x="417.90" y="239.53" width="15.40" height="64.17" fill="#808080" stroke="#4d4d4d" stroke-width="1"/>
<line x1="425.4" y1="225.4" x2="425.4" y2="252.3" stroke="#000" stroke-width="1.3"/>
<line x1="423.2" y1="225.4" x2="427.59999999999997" y2="225.4" stroke="#000" stroke-width="1.3"/>
<line x1="423.2" y1="252.3" x2="427.59999999999997" y2="252.3" stroke="#000" stroke-width="1.3"/>
<text transform="translate(423.80,223.12) scale(1,1.08)" font-size="9.5" text-anchor="middle" font-weight="bold" font-style="normal" fill="#000" >86</text>
<rect x="434.30" y="228.25" width="15.40" height="75.45" fill="#c4c4c4" stroke="#8c8c8c" stroke-width="1"/>
<line x1="441.2" y1="220.6" x2="441.2" y2="234.2" stroke="#000" stroke-width="1.3"/>
<line x1="439.0" y1="220.6" x2="443.4" y2="220.6" stroke="#000" stroke-width="1.3"/>
<line x1="439.0" y1="234.2" x2="443.4" y2="234.2" stroke="#000" stroke-width="1.3"/>
<text transform="translate(443.70,217.72) scale(1,1.08)" font-size="9.5" text-anchor="middle" font-weight="bold" font-style="normal" fill="#000" >101</text>
<rect x="473.40" y="242.54" width="15.40" height="61.16" fill="#808080" stroke="#4d4d4d" stroke-width="1"/>
<line x1="481.5" y1="229.5" x2="481.5" y2="254.8" stroke="#000" stroke-width="1.3"/>
<line x1="479.3" y1="229.5" x2="483.7" y2="229.5" stroke="#000" stroke-width="1.3"/>
<line x1="479.3" y1="254.8" x2="483.7" y2="254.8" stroke="#000" stroke-width="1.3"/>
<text transform="translate(478.30,225.62) scale(1,1.08)" font-size="9.5" text-anchor="middle" font-weight="bold" font-style="normal" fill="#000" >82</text>
<rect x="489.80" y="232.01" width="15.40" height="71.69" fill="#c4c4c4" stroke="#8c8c8c" stroke-width="1"/>
<line x1="497.6" y1="222.8" x2="497.6" y2="240.6" stroke="#000" stroke-width="1.3"/>
<line x1="495.40000000000003" y1="222.8" x2="499.8" y2="222.8" stroke="#000" stroke-width="1.3"/>
<line x1="495.40000000000003" y1="240.6" x2="499.8" y2="240.6" stroke="#000" stroke-width="1.3"/>
<text transform="translate(499.80,218.32) scale(1,1.08)" font-size="9.5" text-anchor="middle" font-weight="bold" font-style="normal" fill="#000" >96</text>
<line x1="349.8" y1="303.7" x2="349.8" y2="307.2" stroke="#e0e0e0" stroke-width="1"/>
<line x1="405.8" y1="303.7" x2="405.8" y2="307.2" stroke="#e0e0e0" stroke-width="1"/>
<line x1="462" y1="303.7" x2="462" y2="307.2" stroke="#e0e0e0" stroke-width="1"/>
<text transform="translate(327.00,317.20) scale(1,1.07)" font-size="9.2" text-anchor="middle" font-weight="bold" font-style="normal" fill="#000" >NS</text>
<text transform="translate(378.20,316.80) scale(1,1.12)" font-size="8.7" text-anchor="middle" font-weight="bold" font-style="normal" fill="#000" >NS +</text>
<text transform="translate(378.00,327.50) scale(1,1.1)" font-size="9.0" text-anchor="middle" font-weight="bold" font-style="normal" fill="#000" >Ara-C</text>
<text transform="translate(433.80,317.20) scale(1,1.07)" font-size="9.2" text-anchor="middle" font-weight="bold" font-style="normal" fill="#000" >NS</text>
<text transform="translate(490.40,314.80) scale(1,1.12)" font-size="8.7" text-anchor="middle" font-weight="bold" font-style="normal" fill="#000" >NS +</text>
<text transform="translate(490.60,325.20) scale(1,1.1)" font-size="9.0" text-anchor="middle" font-weight="bold" font-style="normal" fill="#000" >Ara-C</text>
<rect x="308.30" y="332.80" width="85.50" height="2.00" fill="#000" stroke="none" stroke-width="1"/>
<rect x="420.90" y="331.30" width="86.30" height="2.00" fill="#000" stroke="none" stroke-width="1"/>
<text transform="translate(351.10,344.20) scale(1,1.1)" font-size="8.3" text-anchor="middle" font-weight="bold" font-style="normal" fill="#000" >TF-1</text>
<text transform="translate(463.40,344.20) scale(1,1.1)" font-size="8.4" text-anchor="middle" font-weight="bold" font-style="normal" fill="#000" >THP-1</text>
<text transform="translate(263.5,257.2) rotate(-90)" font-size="10.1" text-anchor="middle" font-weight="bold">Relative cell number</text>
</svg>
</body></html>
